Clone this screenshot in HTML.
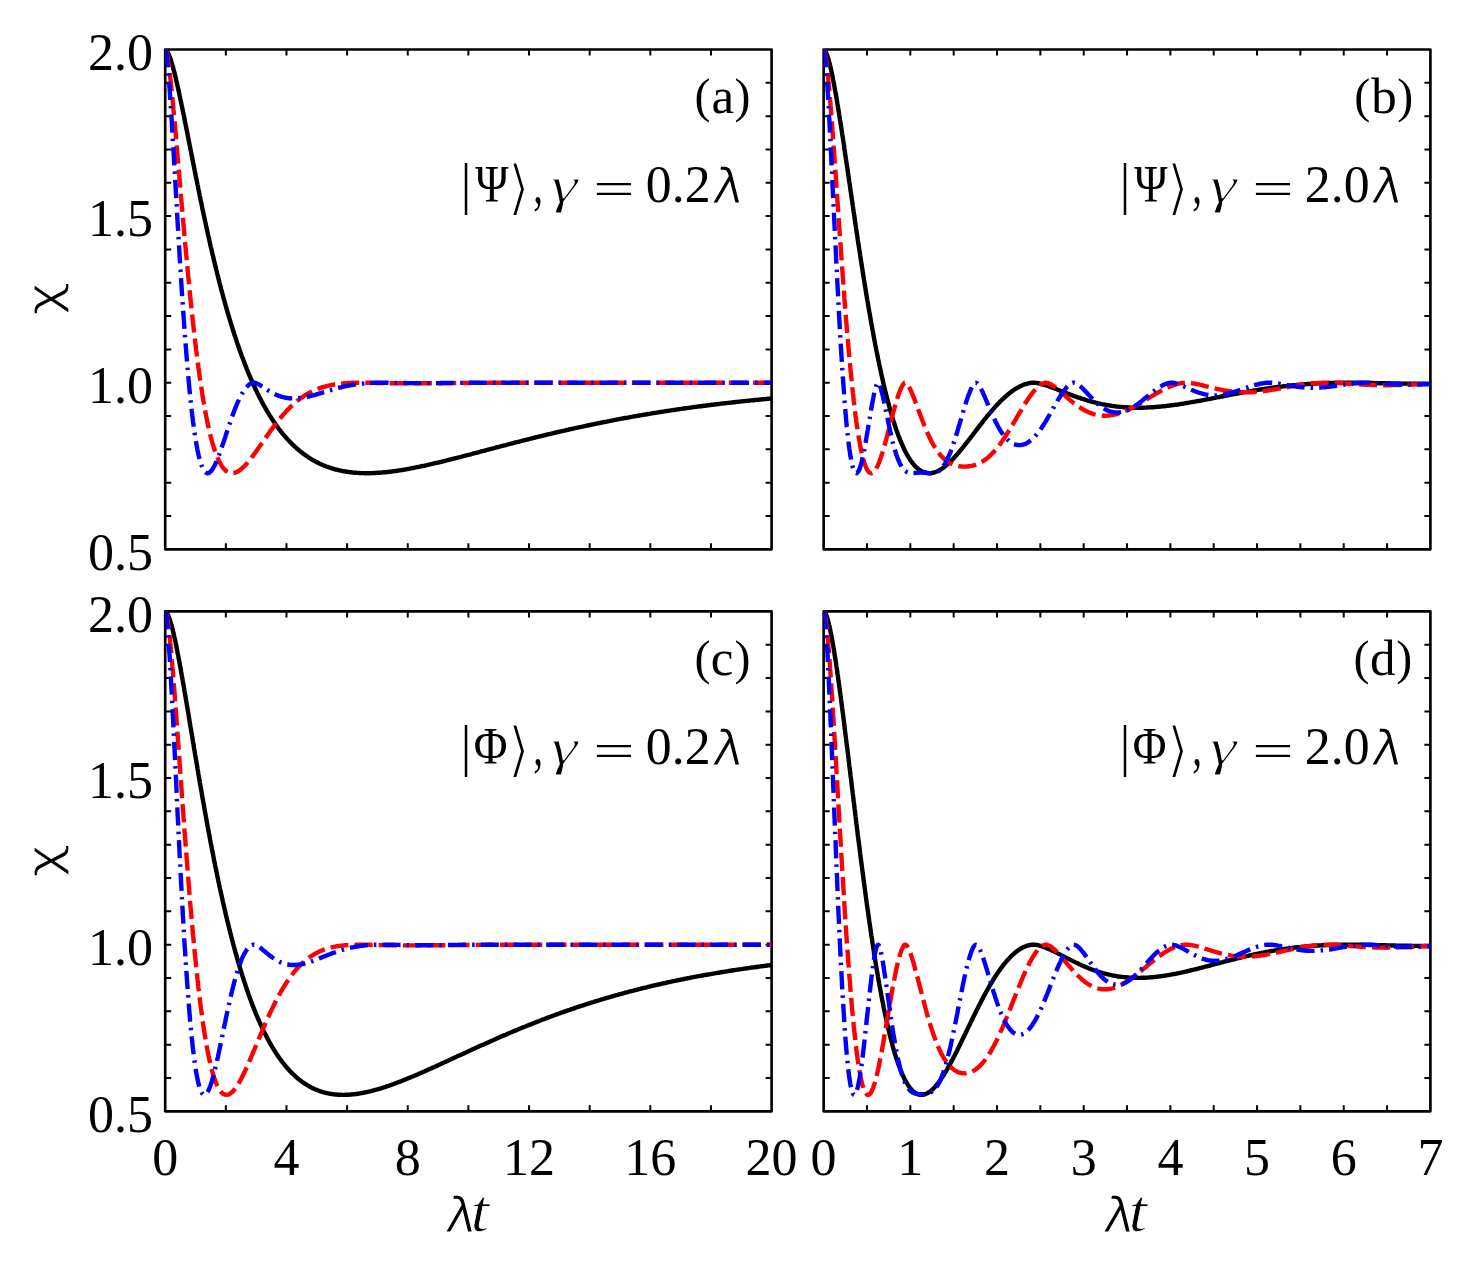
<!DOCTYPE html>
<html lang="en"><head><meta charset="utf-8"><title>chi versus lambda t</title>
<style>
html,body{margin:0;padding:0;background:#fff;}
body{width:1470px;height:1263px;overflow:hidden;}
svg{display:block;}
text{font-family:"Liberation Serif","DejaVu Serif",serif;fill:#000;}
.tk{font-size:52px;}
.c{fill:none;stroke-width:4.4;stroke-linejoin:round;}
.k{stroke:#000;}
.r{stroke:#f00;stroke-dasharray:18.18 6.06;}
.b{stroke:#00f;stroke-dasharray:18.18 6.06 2.47 6.06;}
.fr{fill:none;stroke:#000;stroke-width:2.65;stroke-linejoin:round;}
.t{stroke:#000;stroke-width:2;fill:none;}
</style></head><body>
<svg width="1470" height="1263" viewBox="0 0 1470 1263">
<rect width="1470" height="1263" fill="#fff"/>
<g id="panel-a">
<clipPath id="cp0"><rect x="165.20" y="49.50" width="606.40" height="499.80"/></clipPath>
<path class="t" d="M225.84 549.30v-6M225.84 49.50v6M286.48 549.30v-6M286.48 49.50v6M347.12 549.30v-6M347.12 49.50v6M407.76 549.30v-6M407.76 49.50v6M468.40 549.30v-6M468.40 49.50v6M529.04 549.30v-6M529.04 49.50v6M589.68 549.30v-6M589.68 49.50v6M650.32 549.30v-6M650.32 49.50v6M710.96 549.30v-6M710.96 49.50v6M165.20 82.82h6M771.60 82.82h-6M165.20 116.14h6M771.60 116.14h-6M165.20 149.46h6M771.60 149.46h-6M165.20 182.78h6M771.60 182.78h-6M165.20 216.10h6M771.60 216.10h-6M165.20 249.42h6M771.60 249.42h-6M165.20 282.74h6M771.60 282.74h-6M165.20 316.06h6M771.60 316.06h-6M165.20 349.38h6M771.60 349.38h-6M165.20 382.70h6M771.60 382.70h-6M165.20 416.02h6M771.60 416.02h-6M165.20 449.34h6M771.60 449.34h-6M165.20 482.66h6M771.60 482.66h-6M165.20 515.98h6M771.60 515.98h-6"/>
<rect class="fr" x="165.20" y="49.50" width="606.40" height="499.80"/>
<g clip-path="url(#cp0)">
<path class="c k" d="M165.2 49.5L165.2 49.5L165.3 49.5L165.3 49.5L165.4 49.5L165.4 49.5L165.5 49.6L165.6 49.6L165.7 49.6L165.8 49.7L165.9 49.8L166.0 49.8L166.1 49.9L166.2 50.1L166.4 50.2L166.5 50.3L166.6 50.5L166.8 50.7L166.9 50.9L167.1 51.1L167.3 51.4L167.4 51.6L167.6 51.9L167.8 52.3L167.9 52.6L168.1 53.0L168.3 53.4L168.5 53.8L168.7 54.3L168.9 54.7L169.1 55.2L169.3 55.8L169.6 56.3L169.8 56.9L170.0 57.5L170.2 58.2L170.5 58.9L170.7 59.6L170.9 60.3L171.2 61.1L171.4 61.9L171.7 62.7L171.9 63.5L172.2 64.4L172.4 65.3L172.7 66.3L173.0 67.2L173.3 68.3L173.5 69.3L173.8 70.3L174.1 71.4L174.4 72.6L174.7 73.7L175.0 74.9L175.3 76.1L175.6 77.3L175.9 78.6L176.2 79.9L176.5 81.2L176.8 82.6L177.1 84.0L177.4 85.4L177.7 86.8L178.1 88.3L178.4 89.7L178.7 91.3L179.1 92.8L179.4 94.4L179.7 96.0L180.1 97.6L180.4 99.2L180.8 100.9L181.1 102.6L181.5 104.3L181.8 106.0L182.2 107.8L182.6 109.5L182.9 111.3L183.3 113.2L183.7 115.0L184.1 116.9L184.4 118.8L184.8 120.7L185.2 122.6L185.6 124.5L186.0 126.5L186.4 128.5L186.8 130.5L187.2 132.5L187.6 134.5L188.0 136.5L188.4 138.6L188.8 140.7L189.2 142.8L189.6 144.9L190.0 147.0L190.4 149.1L190.9 151.3L191.3 153.4L191.7 155.6L192.2 157.8L192.6 160.0L193.0 162.2L193.5 164.4L193.9 166.6L194.3 168.8L194.8 171.1L195.2 173.3L195.7 175.6L196.1 177.8L196.6 180.1L197.1 182.4L197.5 184.6L198.0 186.9L198.4 189.2L198.9 191.5L199.4 193.8L199.8 196.1L200.3 198.4L200.8 200.7L201.3 203.0L201.8 205.4L202.2 207.7L202.7 210.0L203.2 212.3L203.7 214.6L204.2 216.9L204.7 219.3L205.2 221.6L205.7 223.9L206.2 226.2L206.7 228.5L207.2 230.8L207.7 233.2L208.2 235.5L208.8 237.8L209.3 240.1L209.8 242.4L210.3 244.7L210.8 247.0L211.4 249.2L211.9 251.5L212.4 253.8L213.0 256.1L213.5 258.3L214.0 260.6L214.6 262.8L215.1 265.1L215.7 267.3L216.2 269.5L216.8 271.8L217.3 274.0L217.9 276.2L218.4 278.4L219.0 280.6L219.5 282.8L220.1 284.9L220.7 287.1L221.2 289.3L221.8 291.4L222.4 293.5L222.9 295.7L223.5 297.8L224.1 299.9L224.7 302.0L225.3 304.1L225.8 306.1L226.4 308.2L227.0 310.3L227.6 312.3L228.2 314.3L228.8 316.3L229.4 318.3L230.0 320.3L230.6 322.3L231.2 324.3L231.8 326.2L232.4 328.2L233.0 330.1L233.6 332.0L234.2 333.9L234.8 335.8L235.5 337.7L236.1 339.6L236.7 341.4L237.3 343.3L237.9 345.1L238.6 346.9L239.2 348.7L239.8 350.5L240.5 352.3L241.1 354.0L241.7 355.8L242.4 357.5L243.0 359.2L243.7 360.9L244.3 362.6L245.0 364.3L245.6 366.0L246.3 367.6L246.9 369.3L247.6 370.9L248.2 372.5L248.9 374.1L249.5 375.6L250.2 377.2L250.9 378.8L251.5 380.3L252.2 381.8L252.9 383.3L253.5 384.8L254.2 386.3L254.9 387.7L255.6 389.2L256.2 390.6L256.9 392.0L257.6 393.4L258.3 394.8L259.0 396.2L259.7 397.6L260.4 398.9L261.1 400.2L261.8 401.6L262.5 402.9L263.1 404.1L263.8 405.4L264.6 406.7L265.3 407.9L266.0 409.2L266.7 410.4L267.4 411.6L268.1 412.8L268.8 413.9L269.5 415.1L270.2 416.3L271.0 417.4L271.7 418.5L272.4 419.6L273.1 420.7L273.9 421.8L274.6 422.9L275.3 423.9L276.0 425.0L276.8 426.0L277.5 427.0L278.2 428.0L279.0 429.0L279.7 429.9L280.5 430.9L281.2 431.9L282.0 432.8L282.7 433.7L283.5 434.6L284.2 435.5L285.0 436.4L285.7 437.3L286.5 438.1L287.2 439.0L288.0 439.8L288.8 440.6L289.5 441.4L290.3 442.2L291.1 443.0L291.8 443.8L292.6 444.5L293.4 445.3L294.1 446.0L294.9 446.7L295.7 447.4L296.5 448.1L297.3 448.8L298.0 449.5L298.8 450.2L299.6 450.8L300.4 451.5L301.2 452.1L302.0 452.7L302.8 453.3L303.6 453.9L304.4 454.5L305.2 455.1L306.0 455.6L306.8 456.2L307.6 456.7L308.4 457.3L309.2 457.8L310.0 458.3L310.8 458.8L311.6 459.3L312.4 459.8L313.3 460.3L314.1 460.7L314.9 461.2L315.7 461.6L316.5 462.0L317.4 462.5L318.2 462.9L319.0 463.3L319.8 463.7L320.7 464.1L321.5 464.4L322.3 464.8L323.2 465.2L324.0 465.5L324.9 465.9L325.7 466.2L326.5 466.5L327.4 466.8L328.2 467.1L329.1 467.4L329.9 467.7L330.8 468.0L331.6 468.3L332.5 468.5L333.3 468.8L334.2 469.0L335.1 469.3L335.9 469.5L336.8 469.7L337.7 469.9L338.5 470.1L339.4 470.3L340.3 470.5L341.1 470.7L342.0 470.9L342.9 471.1L343.7 471.2L344.6 471.4L345.5 471.5L346.4 471.7L347.3 471.8L348.1 471.9L349.0 472.1L349.9 472.2L350.8 472.3L351.7 472.4L352.6 472.5L353.5 472.6L354.4 472.7L355.3 472.7L356.2 472.8L357.1 472.9L358.0 472.9L358.9 473.0L359.8 473.0L360.7 473.1L361.6 473.1L362.5 473.1L363.4 473.1L364.3 473.2L365.2 473.2L366.2 473.2L367.1 473.2L368.0 473.2L368.9 473.2L369.8 473.2L370.8 473.1L371.7 473.1L372.6 473.1L373.5 473.0L374.5 473.0L375.4 473.0L376.3 472.9L377.3 472.8L378.2 472.8L379.1 472.7L380.1 472.7L381.0 472.6L381.9 472.5L382.9 472.4L383.8 472.3L384.8 472.3L385.7 472.2L386.7 472.1L387.6 472.0L388.6 471.8L389.5 471.7L390.5 471.6L391.5 471.5L392.4 471.4L393.4 471.3L394.3 471.1L395.3 471.0L396.3 470.9L397.2 470.7L398.2 470.6L399.2 470.4L400.1 470.3L401.1 470.1L402.1 470.0L403.1 469.8L404.0 469.6L405.0 469.5L406.0 469.3L407.0 469.1L407.9 469.0L408.9 468.8L409.9 468.6L410.9 468.4L411.9 468.2L412.9 468.0L413.9 467.8L414.9 467.6L415.9 467.4L416.9 467.2L417.9 467.0L418.9 466.8L419.9 466.6L420.9 466.4L421.9 466.2L422.9 466.0L423.9 465.8L424.9 465.6L425.9 465.3L426.9 465.1L427.9 464.9L428.9 464.7L429.9 464.4L431.0 464.2L432.0 464.0L433.0 463.7L434.0 463.5L435.0 463.2L436.1 463.0L437.1 462.8L438.1 462.5L439.1 462.3L440.2 462.0L441.2 461.8L442.2 461.5L443.3 461.3L444.3 461.0L445.3 460.8L446.4 460.5L447.4 460.2L448.5 460.0L449.5 459.7L450.5 459.5L451.6 459.2L452.6 458.9L453.7 458.7L454.7 458.4L455.8 458.1L456.8 457.9L457.9 457.6L459.0 457.3L460.0 457.1L461.1 456.8L462.1 456.5L463.2 456.2L464.2 456.0L465.3 455.7L466.4 455.4L467.4 455.1L468.5 454.8L469.6 454.6L470.7 454.3L471.7 454.0L472.8 453.7L473.9 453.4L475.0 453.1L476.0 452.9L477.1 452.6L478.2 452.3L479.3 452.0L480.4 451.7L481.4 451.4L482.5 451.1L483.6 450.9L484.7 450.6L485.8 450.3L486.9 450.0L488.0 449.7L489.1 449.4L490.2 449.1L491.3 448.8L492.4 448.5L493.5 448.3L494.6 448.0L495.7 447.7L496.8 447.4L497.9 447.1L499.0 446.8L500.1 446.5L501.2 446.2L502.3 445.9L503.4 445.6L504.6 445.3L505.7 445.1L506.8 444.8L507.9 444.5L509.0 444.2L510.1 443.9L511.3 443.6L512.4 443.3L513.5 443.0L514.6 442.7L515.8 442.4L516.9 442.1L518.0 441.9L519.2 441.6L520.3 441.3L521.4 441.0L522.6 440.7L523.7 440.4L524.8 440.1L526.0 439.8L527.1 439.5L528.3 439.3L529.4 439.0L530.6 438.7L531.7 438.4L532.8 438.1L534.0 437.8L535.2 437.5L536.3 437.2L537.5 437.0L538.6 436.7L539.8 436.4L540.9 436.1L542.1 435.8L543.2 435.5L544.4 435.3L545.6 435.0L546.7 434.7L547.9 434.4L549.1 434.1L550.2 433.9L551.4 433.6L552.6 433.3L553.7 433.0L554.9 432.8L556.1 432.5L557.3 432.2L558.4 431.9L559.6 431.7L560.8 431.4L562.0 431.1L563.2 430.8L564.4 430.6L565.5 430.3L566.7 430.0L567.9 429.8L569.1 429.5L570.3 429.2L571.5 429.0L572.7 428.7L573.9 428.4L575.1 428.2L576.3 427.9L577.5 427.6L578.7 427.4L579.9 427.1L581.1 426.8L582.3 426.6L583.5 426.3L584.7 426.1L585.9 425.8L587.1 425.5L588.3 425.3L589.5 425.0L590.7 424.8L592.0 424.5L593.2 424.3L594.4 424.0L595.6 423.8L596.8 423.5L598.0 423.3L599.3 423.0L600.5 422.8L601.7 422.5L602.9 422.3L604.2 422.0L605.4 421.8L606.6 421.6L607.9 421.3L609.1 421.1L610.3 420.8L611.6 420.6L612.8 420.3L614.0 420.1L615.3 419.9L616.5 419.6L617.8 419.4L619.0 419.2L620.2 418.9L621.5 418.7L622.7 418.5L624.0 418.2L625.2 418.0L626.5 417.8L627.7 417.6L629.0 417.3L630.2 417.1L631.5 416.9L632.8 416.7L634.0 416.4L635.3 416.2L636.5 416.0L637.8 415.8L639.1 415.5L640.3 415.3L641.6 415.1L642.9 414.9L644.1 414.7L645.4 414.5L646.7 414.3L647.9 414.0L649.2 413.8L650.5 413.6L651.8 413.4L653.0 413.2L654.3 413.0L655.6 412.8L656.9 412.6L658.1 412.4L659.4 412.2L660.7 412.0L662.0 411.8L663.3 411.6L664.6 411.4L665.9 411.2L667.2 411.0L668.4 410.8L669.7 410.6L671.0 410.4L672.3 410.2L673.6 410.0L674.9 409.8L676.2 409.6L677.5 409.4L678.8 409.2L680.1 409.1L681.4 408.9L682.7 408.7L684.0 408.5L685.4 408.3L686.7 408.1L688.0 407.9L689.3 407.8L690.6 407.6L691.9 407.4L693.2 407.2L694.5 407.0L695.9 406.9L697.2 406.7L698.5 406.5L699.8 406.3L701.1 406.2L702.5 406.0L703.8 405.8L705.1 405.7L706.5 405.5L707.8 405.3L709.1 405.2L710.4 405.0L711.8 404.8L713.1 404.7L714.4 404.5L715.8 404.3L717.1 404.2L718.5 404.0L719.8 403.9L721.1 403.7L722.5 403.5L723.8 403.4L725.2 403.2L726.5 403.1L727.9 402.9L729.2 402.8L730.6 402.6L731.9 402.5L733.3 402.3L734.6 402.2L736.0 402.0L737.3 401.9L738.7 401.7L740.0 401.6L741.4 401.4L742.8 401.3L744.1 401.1L745.5 401.0L746.8 400.9L748.2 400.7L749.6 400.6L750.9 400.4L752.3 400.3L753.7 400.2L755.1 400.0L756.4 399.9L757.8 399.8L759.2 399.6L760.5 399.5L761.9 399.4L763.3 399.2L764.7 399.1L766.1 399.0L767.4 398.8L768.8 398.7L770.2 398.6L771.6 398.5"/>
<path class="c r" d="M165.2 49.5L165.2 49.5L165.3 49.5L165.3 49.5L165.4 49.6L165.4 49.6L165.5 49.7L165.6 49.8L165.7 50.0L165.8 50.2L165.9 50.4L166.0 50.7L166.1 51.0L166.2 51.4L166.4 51.8L166.5 52.3L166.6 52.9L166.8 53.5L166.9 54.2L167.1 55.0L167.3 55.8L167.4 56.7L167.6 57.7L167.8 58.7L167.9 59.8L168.1 61.0L168.3 62.3L168.5 63.6L168.7 65.1L168.9 66.6L169.1 68.2L169.3 69.8L169.6 71.6L169.8 73.4L170.0 75.3L170.2 77.3L170.5 79.3L170.7 81.4L170.9 83.7L171.2 86.0L171.4 88.3L171.7 90.8L171.9 93.3L172.2 95.9L172.4 98.6L172.7 101.3L173.0 104.1L173.3 107.0L173.5 110.0L173.8 113.0L174.1 116.1L174.4 119.2L174.7 122.4L175.0 125.7L175.3 129.0L175.6 132.4L175.9 135.9L176.2 139.4L176.5 143.0L176.8 146.6L177.1 150.2L177.4 154.0L177.7 157.7L178.1 161.5L178.4 165.4L178.7 169.2L179.1 173.2L179.4 177.1L179.7 181.1L180.1 185.1L180.4 189.2L180.8 193.3L181.1 197.4L181.5 201.5L181.8 205.7L182.2 209.9L182.6 214.1L182.9 218.3L183.3 222.5L183.7 226.7L184.1 231.0L184.4 235.2L184.8 239.5L185.2 243.8L185.6 248.0L186.0 252.3L186.4 256.5L186.8 260.8L187.2 265.0L187.6 269.3L188.0 273.5L188.4 277.7L188.8 281.9L189.2 286.1L189.6 290.3L190.0 294.4L190.4 298.6L190.9 302.7L191.3 306.8L191.7 310.8L192.2 314.8L192.6 318.8L193.0 322.8L193.5 326.7L193.9 330.6L194.3 334.5L194.8 338.3L195.2 342.1L195.7 345.9L196.1 349.6L196.6 353.2L197.1 356.9L197.5 360.5L198.0 364.0L198.4 367.5L198.9 370.9L199.4 374.3L199.8 377.6L200.3 380.9L200.8 384.2L201.3 387.4L201.8 390.5L202.2 393.6L202.7 396.6L203.2 399.6L203.7 402.5L204.2 405.3L204.7 408.1L205.2 410.9L205.7 413.5L206.2 416.2L206.7 418.7L207.2 421.2L207.7 423.7L208.2 426.1L208.8 428.4L209.3 430.6L209.8 432.8L210.3 435.0L210.8 437.1L211.4 439.1L211.9 441.0L212.4 442.9L213.0 444.8L213.5 446.5L214.0 448.2L214.6 449.9L215.1 451.5L215.7 453.0L216.2 454.5L216.8 455.9L217.3 457.3L217.9 458.5L218.4 459.8L219.0 461.0L219.5 462.1L220.1 463.1L220.7 464.1L221.2 465.1L221.8 466.0L222.4 466.8L222.9 467.6L223.5 468.3L224.1 469.0L224.7 469.6L225.3 470.2L225.8 470.7L226.4 471.2L227.0 471.6L227.6 471.9L228.2 472.3L228.8 472.5L229.4 472.7L230.0 472.9L230.6 473.1L231.2 473.1L231.8 473.2L232.4 473.2L233.0 473.1L233.6 473.0L234.2 472.9L234.8 472.8L235.5 472.6L236.1 472.3L236.7 472.0L237.3 471.7L237.9 471.4L238.6 471.0L239.2 470.6L239.8 470.1L240.5 469.6L241.1 469.1L241.7 468.6L242.4 468.0L243.0 467.4L243.7 466.8L244.3 466.2L245.0 465.5L245.6 464.8L246.3 464.1L246.9 463.3L247.6 462.6L248.2 461.8L248.9 461.0L249.5 460.2L250.2 459.4L250.9 458.5L251.5 457.6L252.2 456.8L252.9 455.9L253.5 455.0L254.2 454.0L254.9 453.1L255.6 452.2L256.2 451.2L256.9 450.2L257.6 449.3L258.3 448.3L259.0 447.3L259.7 446.3L260.4 445.3L261.1 444.3L261.8 443.3L262.5 442.3L263.1 441.3L263.8 440.3L264.6 439.3L265.3 438.3L266.0 437.3L266.7 436.2L267.4 435.2L268.1 434.2L268.8 433.2L269.5 432.2L270.2 431.2L271.0 430.2L271.7 429.2L272.4 428.3L273.1 427.3L273.9 426.3L274.6 425.3L275.3 424.4L276.0 423.4L276.8 422.5L277.5 421.5L278.2 420.6L279.0 419.7L279.7 418.8L280.5 417.9L281.2 417.0L282.0 416.1L282.7 415.2L283.5 414.4L284.2 413.5L285.0 412.7L285.7 411.9L286.5 411.0L287.2 410.2L288.0 409.5L288.8 408.7L289.5 407.9L290.3 407.1L291.1 406.4L291.8 405.7L292.6 405.0L293.4 404.3L294.1 403.6L294.9 402.9L295.7 402.2L296.5 401.6L297.3 400.9L298.0 400.3L298.8 399.7L299.6 399.1L300.4 398.5L301.2 397.9L302.0 397.3L302.8 396.8L303.6 396.3L304.4 395.7L305.2 395.2L306.0 394.7L306.8 394.2L307.6 393.8L308.4 393.3L309.2 392.9L310.0 392.4L310.8 392.0L311.6 391.6L312.4 391.2L313.3 390.8L314.1 390.4L314.9 390.1L315.7 389.7L316.5 389.4L317.4 389.0L318.2 388.7L319.0 388.4L319.8 388.1L320.7 387.8L321.5 387.5L322.3 387.3L323.2 387.0L324.0 386.8L324.9 386.5L325.7 386.3L326.5 386.1L327.4 385.9L328.2 385.7L329.1 385.5L329.9 385.3L330.8 385.1L331.6 384.9L332.5 384.8L333.3 384.6L334.2 384.5L335.1 384.3L335.9 384.2L336.8 384.1L337.7 384.0L338.5 383.8L339.4 383.7L340.3 383.6L341.1 383.5L342.0 383.5L342.9 383.4L343.7 383.3L344.6 383.2L345.5 383.2L346.4 383.1L347.3 383.0L348.1 383.0L349.0 383.0L349.9 382.9L350.8 382.9L351.7 382.8L352.6 382.8L353.5 382.8L354.4 382.8L355.3 382.7L356.2 382.7L357.1 382.7L358.0 382.7L358.9 382.7L359.8 382.7L360.7 382.7L361.6 382.7L362.5 382.7L363.4 382.7L364.3 382.7L365.2 382.8L366.2 382.8L367.1 382.8L368.0 382.8L368.9 382.8L369.8 382.8L370.8 382.8L371.7 382.9L372.6 382.9L373.5 382.9L374.5 382.9L375.4 382.9L376.3 383.0L377.3 383.0L378.2 383.0L379.1 383.0L380.1 383.0L381.0 383.0L381.9 383.1L382.9 383.1L383.8 383.1L384.8 383.1L385.7 383.1L386.7 383.1L387.6 383.2L388.6 383.2L389.5 383.2L390.5 383.2L391.5 383.2L392.4 383.2L393.4 383.2L394.3 383.2L395.3 383.2L396.3 383.2L397.2 383.3L398.2 383.3L399.2 383.3L400.1 383.3L401.1 383.3L402.1 383.3L403.1 383.3L404.0 383.3L405.0 383.3L406.0 383.3L407.0 383.3L407.9 383.3L408.9 383.3L409.9 383.3L410.9 383.3L411.9 383.3L412.9 383.3L413.9 383.3L414.9 383.3L415.9 383.3L416.9 383.3L417.9 383.3L418.9 383.3L419.9 383.3L420.9 383.3L421.9 383.3L422.9 383.3L423.9 383.3L424.9 383.3L425.9 383.3L426.9 383.3L427.9 383.3L428.9 383.2L429.9 383.2L431.0 383.2L432.0 383.2L433.0 383.2L434.0 383.2L435.0 383.2L436.1 383.2L437.1 383.2L438.1 383.2L439.1 383.2L440.2 383.2L441.2 383.2L442.2 383.2L443.3 383.1L444.3 383.1L445.3 383.1L446.4 383.1L447.4 383.1L448.5 383.1L449.5 383.1L450.5 383.1L451.6 383.1L452.6 383.1L453.7 383.1L454.7 383.1L455.8 383.1L456.8 383.0L457.9 383.0L459.0 383.0L460.0 383.0L461.1 383.0L462.1 383.0L463.2 383.0L464.2 383.0L465.3 383.0L466.4 383.0L467.4 383.0L468.5 383.0L469.6 383.0L470.7 382.9L471.7 382.9L472.8 382.9L473.9 382.9L475.0 382.9L476.0 382.9L477.1 382.9L478.2 382.9L479.3 382.9L480.4 382.9L481.4 382.9L482.5 382.9L483.6 382.9L484.7 382.9L485.8 382.9L486.9 382.9L488.0 382.9L489.1 382.8L490.2 382.8L491.3 382.8L492.4 382.8L493.5 382.8L494.6 382.8L495.7 382.8L496.8 382.8L497.9 382.8L499.0 382.8L500.1 382.8L501.2 382.8L502.3 382.8L503.4 382.8L504.6 382.8L505.7 382.8L506.8 382.8L507.9 382.8L509.0 382.8L510.1 382.8L511.3 382.8L512.4 382.8L513.5 382.8L514.6 382.8L515.8 382.8L516.9 382.8L518.0 382.8L519.2 382.7L520.3 382.7L521.4 382.7L522.6 382.7L523.7 382.7L524.8 382.7L526.0 382.7L527.1 382.7L528.3 382.7L529.4 382.7L530.6 382.7L531.7 382.7L532.8 382.7L534.0 382.7L535.2 382.7L536.3 382.7L537.5 382.7L538.6 382.7L539.8 382.7L540.9 382.7L542.1 382.7L543.2 382.7L544.4 382.7L545.6 382.7L546.7 382.7L547.9 382.7L549.1 382.7L550.2 382.7L551.4 382.7L552.6 382.7L553.7 382.7L554.9 382.7L556.1 382.7L557.3 382.7L558.4 382.7L559.6 382.7L560.8 382.7L562.0 382.7L563.2 382.7L564.4 382.7L565.5 382.7L566.7 382.7L567.9 382.7L569.1 382.7L570.3 382.7L571.5 382.7L572.7 382.7L573.9 382.7L575.1 382.7L576.3 382.7L577.5 382.7L578.7 382.7L579.9 382.7L581.1 382.7L582.3 382.7L583.5 382.7L584.7 382.7L585.9 382.7L587.1 382.7L588.3 382.7L589.5 382.7L590.7 382.7L592.0 382.7L593.2 382.7L594.4 382.7L595.6 382.7L596.8 382.7L598.0 382.7L599.3 382.7L600.5 382.7L601.7 382.7L602.9 382.7L604.2 382.7L605.4 382.7L606.6 382.7L607.9 382.7L609.1 382.7L610.3 382.7L611.6 382.7L612.8 382.7L614.0 382.7L615.3 382.7L616.5 382.7L617.8 382.7L619.0 382.7L620.2 382.7L621.5 382.7L622.7 382.7L624.0 382.7L625.2 382.7L626.5 382.7L627.7 382.7L629.0 382.7L630.2 382.7L631.5 382.7L632.8 382.7L634.0 382.7L635.3 382.7L636.5 382.7L637.8 382.7L639.1 382.7L640.3 382.7L641.6 382.7L642.9 382.7L644.1 382.7L645.4 382.7L646.7 382.7L647.9 382.7L649.2 382.7L650.5 382.7L651.8 382.7L653.0 382.7L654.3 382.7L655.6 382.7L656.9 382.7L658.1 382.7L659.4 382.7L660.7 382.7L662.0 382.7L663.3 382.7L664.6 382.7L665.9 382.7L667.2 382.7L668.4 382.7L669.7 382.7L671.0 382.7L672.3 382.7L673.6 382.7L674.9 382.7L676.2 382.7L677.5 382.7L678.8 382.7L680.1 382.7L681.4 382.7L682.7 382.7L684.0 382.7L685.4 382.7L686.7 382.7L688.0 382.7L689.3 382.7L690.6 382.7L691.9 382.7L693.2 382.7L694.5 382.7L695.9 382.7L697.2 382.7L698.5 382.7L699.8 382.7L701.1 382.7L702.5 382.7L703.8 382.7L705.1 382.7L706.5 382.7L707.8 382.7L709.1 382.7L710.4 382.7L711.8 382.7L713.1 382.7L714.4 382.7L715.8 382.7L717.1 382.7L718.5 382.7L719.8 382.7L721.1 382.7L722.5 382.7L723.8 382.7L725.2 382.7L726.5 382.7L727.9 382.7L729.2 382.7L730.6 382.7L731.9 382.7L733.3 382.7L734.6 382.7L736.0 382.7L737.3 382.7L738.7 382.7L740.0 382.7L741.4 382.7L742.8 382.7L744.1 382.7L745.5 382.7L746.8 382.7L748.2 382.7L749.6 382.7L750.9 382.7L752.3 382.7L753.7 382.7L755.1 382.7L756.4 382.7L757.8 382.7L759.2 382.7L760.5 382.7L761.9 382.7L763.3 382.7L764.7 382.7L766.1 382.7L767.4 382.7L768.8 382.7L770.2 382.7L771.6 382.7"/>
<path class="c b" d="M165.2 49.5L165.2 49.5L165.3 49.5L165.3 49.6L165.4 49.6L165.4 49.7L165.5 49.9L165.6 50.1L165.7 50.4L165.8 50.7L165.9 51.2L166.0 51.7L166.1 52.3L166.2 53.0L166.4 53.8L166.5 54.7L166.6 55.7L166.8 56.9L166.9 58.1L167.1 59.4L167.3 60.9L167.4 62.5L167.6 64.2L167.8 66.1L167.9 68.0L168.1 70.1L168.3 72.3L168.5 74.7L168.7 77.1L168.9 79.7L169.1 82.5L169.3 85.3L169.6 88.3L169.8 91.4L170.0 94.6L170.2 98.0L170.5 101.4L170.7 105.0L170.9 108.7L171.2 112.5L171.4 116.4L171.7 120.5L171.9 124.6L172.2 128.8L172.4 133.2L172.7 137.6L173.0 142.1L173.3 146.8L173.5 151.5L173.8 156.2L174.1 161.1L174.4 166.1L174.7 171.1L175.0 176.1L175.3 181.3L175.6 186.5L175.9 191.8L176.2 197.1L176.5 202.4L176.8 207.8L177.1 213.3L177.4 218.7L177.7 224.2L178.1 229.8L178.4 235.3L178.7 240.9L179.1 246.5L179.4 252.0L179.7 257.6L180.1 263.2L180.4 268.8L180.8 274.4L181.1 279.9L181.5 285.5L181.8 291.0L182.2 296.5L182.6 301.9L182.9 307.4L183.3 312.7L183.7 318.1L184.1 323.4L184.4 328.6L184.8 333.8L185.2 339.0L185.6 344.0L186.0 349.0L186.4 354.0L186.8 358.9L187.2 363.7L187.6 368.4L188.0 373.0L188.4 377.6L188.8 382.0L189.2 386.4L189.6 390.7L190.0 394.9L190.4 399.0L190.9 403.0L191.3 406.9L191.7 410.7L192.2 414.4L192.6 418.0L193.0 421.5L193.5 424.9L193.9 428.1L194.3 431.3L194.8 434.3L195.2 437.3L195.7 440.1L196.1 442.8L196.6 445.3L197.1 447.8L197.5 450.2L198.0 452.4L198.4 454.5L198.9 456.5L199.4 458.4L199.8 460.2L200.3 461.8L200.8 463.3L201.3 464.8L201.8 466.1L202.2 467.2L202.7 468.3L203.2 469.3L203.7 470.1L204.2 470.9L204.7 471.5L205.2 472.1L205.7 472.5L206.2 472.8L206.7 473.0L207.2 473.2L207.7 473.2L208.2 473.1L208.8 472.9L209.3 472.7L209.8 472.3L210.3 471.9L210.8 471.4L211.4 470.8L211.9 470.1L212.4 469.3L213.0 468.5L213.5 467.6L214.0 466.6L214.6 465.6L215.1 464.5L215.7 463.3L216.2 462.1L216.8 460.8L217.3 459.5L217.9 458.1L218.4 456.7L219.0 455.2L219.5 453.7L220.1 452.1L220.7 450.5L221.2 448.9L221.8 447.2L222.4 445.6L222.9 443.9L223.5 442.2L224.1 440.4L224.7 438.7L225.3 436.9L225.8 435.1L226.4 433.4L227.0 431.6L227.6 429.8L228.2 428.0L228.8 426.2L229.4 424.5L230.0 422.7L230.6 421.0L231.2 419.2L231.8 417.5L232.4 415.8L233.0 414.2L233.6 412.5L234.2 410.9L234.8 409.3L235.5 407.7L236.1 406.2L236.7 404.7L237.3 403.2L237.9 401.8L238.6 400.4L239.2 399.1L239.8 397.8L240.5 396.5L241.1 395.3L241.7 394.2L242.4 393.0L243.0 392.0L243.7 391.0L244.3 390.0L245.0 389.1L245.6 388.2L246.3 387.4L246.9 386.7L247.6 386.0L248.2 385.4L248.9 384.8L249.5 384.3L250.2 383.9L250.9 383.5L251.5 383.2L252.2 382.9L252.9 382.8L253.5 382.7L254.2 382.7L254.9 382.9L255.6 383.0L256.2 383.3L256.9 383.6L257.6 383.9L258.3 384.2L259.0 384.6L259.7 385.0L260.4 385.4L261.1 385.8L261.8 386.3L262.5 386.7L263.1 387.2L263.8 387.6L264.6 388.1L265.3 388.5L266.0 389.0L266.7 389.4L267.4 389.9L268.1 390.3L268.8 390.8L269.5 391.2L270.2 391.6L271.0 392.0L271.7 392.5L272.4 392.8L273.1 393.2L273.9 393.6L274.6 394.0L275.3 394.3L276.0 394.7L276.8 395.0L277.5 395.3L278.2 395.6L279.0 395.9L279.7 396.1L280.5 396.4L281.2 396.6L282.0 396.8L282.7 397.0L283.5 397.2L284.2 397.4L285.0 397.6L285.7 397.7L286.5 397.9L287.2 398.0L288.0 398.1L288.8 398.2L289.5 398.3L290.3 398.3L291.1 398.4L291.8 398.4L292.6 398.4L293.4 398.5L294.1 398.5L294.9 398.4L295.7 398.4L296.5 398.4L297.3 398.3L298.0 398.3L298.8 398.2L299.6 398.1L300.4 398.0L301.2 397.9L302.0 397.8L302.8 397.7L303.6 397.5L304.4 397.4L305.2 397.2L306.0 397.1L306.8 396.9L307.6 396.7L308.4 396.5L309.2 396.3L310.0 396.1L310.8 395.9L311.6 395.7L312.4 395.5L313.3 395.3L314.1 395.1L314.9 394.8L315.7 394.6L316.5 394.4L317.4 394.1L318.2 393.9L319.0 393.6L319.8 393.4L320.7 393.1L321.5 392.9L322.3 392.6L323.2 392.4L324.0 392.1L324.9 391.9L325.7 391.6L326.5 391.3L327.4 391.1L328.2 390.8L329.1 390.6L329.9 390.3L330.8 390.1L331.6 389.8L332.5 389.6L333.3 389.3L334.2 389.1L335.1 388.8L335.9 388.6L336.8 388.4L337.7 388.1L338.5 387.9L339.4 387.7L340.3 387.5L341.1 387.3L342.0 387.0L342.9 386.8L343.7 386.6L344.6 386.4L345.5 386.2L346.4 386.1L347.3 385.9L348.1 385.7L349.0 385.5L349.9 385.4L350.8 385.2L351.7 385.0L352.6 384.9L353.5 384.7L354.4 384.6L355.3 384.5L356.2 384.3L357.1 384.2L358.0 384.1L358.9 384.0L359.8 383.9L360.7 383.8L361.6 383.7L362.5 383.6L363.4 383.5L364.3 383.4L365.2 383.3L366.2 383.3L367.1 383.2L368.0 383.1L368.9 383.1L369.8 383.0L370.8 383.0L371.7 382.9L372.6 382.9L373.5 382.9L374.5 382.8L375.4 382.8L376.3 382.8L377.3 382.8L378.2 382.7L379.1 382.7L380.1 382.7L381.0 382.7L381.9 382.7L382.9 382.7L383.8 382.7L384.8 382.7L385.7 382.7L386.7 382.7L387.6 382.7L388.6 382.8L389.5 382.8L390.5 382.8L391.5 382.8L392.4 382.8L393.4 382.8L394.3 382.9L395.3 382.9L396.3 382.9L397.2 382.9L398.2 382.9L399.2 382.9L400.1 383.0L401.1 383.0L402.1 383.0L403.1 383.0L404.0 383.0L405.0 383.0L406.0 383.0L407.0 383.1L407.9 383.1L408.9 383.1L409.9 383.1L410.9 383.1L411.9 383.1L412.9 383.1L413.9 383.1L414.9 383.1L415.9 383.1L416.9 383.1L417.9 383.1L418.9 383.1L419.9 383.1L420.9 383.1L421.9 383.1L422.9 383.1L423.9 383.1L424.9 383.1L425.9 383.1L426.9 383.1L427.9 383.1L428.9 383.1L429.9 383.1L431.0 383.1L432.0 383.1L433.0 383.1L434.0 383.1L435.0 383.1L436.1 383.1L437.1 383.1L438.1 383.1L439.1 383.1L440.2 383.1L441.2 383.0L442.2 383.0L443.3 383.0L444.3 383.0L445.3 383.0L446.4 383.0L447.4 383.0L448.5 383.0L449.5 383.0L450.5 383.0L451.6 383.0L452.6 382.9L453.7 382.9L454.7 382.9L455.8 382.9L456.8 382.9L457.9 382.9L459.0 382.9L460.0 382.9L461.1 382.9L462.1 382.9L463.2 382.9L464.2 382.8L465.3 382.8L466.4 382.8L467.4 382.8L468.5 382.8L469.6 382.8L470.7 382.8L471.7 382.8L472.8 382.8L473.9 382.8L475.0 382.8L476.0 382.8L477.1 382.8L478.2 382.8L479.3 382.8L480.4 382.8L481.4 382.7L482.5 382.7L483.6 382.7L484.7 382.7L485.8 382.7L486.9 382.7L488.0 382.7L489.1 382.7L490.2 382.7L491.3 382.7L492.4 382.7L493.5 382.7L494.6 382.7L495.7 382.7L496.8 382.7L497.9 382.7L499.0 382.7L500.1 382.7L501.2 382.7L502.3 382.7L503.4 382.7L504.6 382.7L505.7 382.7L506.8 382.7L507.9 382.7L509.0 382.7L510.1 382.7L511.3 382.7L512.4 382.7L513.5 382.7L514.6 382.7L515.8 382.7L516.9 382.7L518.0 382.7L519.2 382.7L520.3 382.7L521.4 382.7L522.6 382.7L523.7 382.7L524.8 382.7L526.0 382.7L527.1 382.7L528.3 382.7L529.4 382.7L530.6 382.7L531.7 382.7L532.8 382.7L534.0 382.7L535.2 382.7L536.3 382.7L537.5 382.7L538.6 382.7L539.8 382.7L540.9 382.7L542.1 382.7L543.2 382.7L544.4 382.7L545.6 382.7L546.7 382.7L547.9 382.7L549.1 382.7L550.2 382.7L551.4 382.7L552.6 382.7L553.7 382.7L554.9 382.7L556.1 382.7L557.3 382.7L558.4 382.7L559.6 382.7L560.8 382.7L562.0 382.7L563.2 382.7L564.4 382.7L565.5 382.7L566.7 382.7L567.9 382.7L569.1 382.7L570.3 382.7L571.5 382.7L572.7 382.7L573.9 382.7L575.1 382.7L576.3 382.7L577.5 382.7L578.7 382.7L579.9 382.7L581.1 382.7L582.3 382.7L583.5 382.7L584.7 382.7L585.9 382.7L587.1 382.7L588.3 382.7L589.5 382.7L590.7 382.7L592.0 382.7L593.2 382.7L594.4 382.7L595.6 382.7L596.8 382.7L598.0 382.7L599.3 382.7L600.5 382.7L601.7 382.7L602.9 382.7L604.2 382.7L605.4 382.7L606.6 382.7L607.9 382.7L609.1 382.7L610.3 382.7L611.6 382.7L612.8 382.7L614.0 382.7L615.3 382.7L616.5 382.7L617.8 382.7L619.0 382.7L620.2 382.7L621.5 382.7L622.7 382.7L624.0 382.7L625.2 382.7L626.5 382.7L627.7 382.7L629.0 382.7L630.2 382.7L631.5 382.7L632.8 382.7L634.0 382.7L635.3 382.7L636.5 382.7L637.8 382.7L639.1 382.7L640.3 382.7L641.6 382.7L642.9 382.7L644.1 382.7L645.4 382.7L646.7 382.7L647.9 382.7L649.2 382.7L650.5 382.7L651.8 382.7L653.0 382.7L654.3 382.7L655.6 382.7L656.9 382.7L658.1 382.7L659.4 382.7L660.7 382.7L662.0 382.7L663.3 382.7L664.6 382.7L665.9 382.7L667.2 382.7L668.4 382.7L669.7 382.7L671.0 382.7L672.3 382.7L673.6 382.7L674.9 382.7L676.2 382.7L677.5 382.7L678.8 382.7L680.1 382.7L681.4 382.7L682.7 382.7L684.0 382.7L685.4 382.7L686.7 382.7L688.0 382.7L689.3 382.7L690.6 382.7L691.9 382.7L693.2 382.7L694.5 382.7L695.9 382.7L697.2 382.7L698.5 382.7L699.8 382.7L701.1 382.7L702.5 382.7L703.8 382.7L705.1 382.7L706.5 382.7L707.8 382.7L709.1 382.7L710.4 382.7L711.8 382.7L713.1 382.7L714.4 382.7L715.8 382.7L717.1 382.7L718.5 382.7L719.8 382.7L721.1 382.7L722.5 382.7L723.8 382.7L725.2 382.7L726.5 382.7L727.9 382.7L729.2 382.7L730.6 382.7L731.9 382.7L733.3 382.7L734.6 382.7L736.0 382.7L737.3 382.7L738.7 382.7L740.0 382.7L741.4 382.7L742.8 382.7L744.1 382.7L745.5 382.7L746.8 382.7L748.2 382.7L749.6 382.7L750.9 382.7L752.3 382.7L753.7 382.7L755.1 382.7L756.4 382.7L757.8 382.7L759.2 382.7L760.5 382.7L761.9 382.7L763.3 382.7L764.7 382.7L766.1 382.7L767.4 382.7L768.8 382.7L770.2 382.7L771.6 382.7"/>
</g>
<text class="tk" x="152.9" y="69.6" text-anchor="end">2.0</text>
<text class="tk" x="152.9" y="236.2" text-anchor="end">1.5</text>
<text class="tk" x="152.9" y="402.8" text-anchor="end">1.0</text>
<text class="tk" x="152.9" y="570.1" text-anchor="end">0.5</text>
<g role="img" aria-label="χ" transform="translate(51.9 298.7) rotate(-90)"><text transform="translate(-15.77 7.50) scale(1.2343 1)" style='font-family:"DejaVu Sans",sans-serif;font-weight:200' font-size="44.25" stroke="#000" stroke-width="0.7">χ</text></g>
<text y="111.6"><tspan x="694.49" font-size="48">(</tspan><tspan x="711.51" y="113.3" font-size="51">a</tspan><tspan x="734.52" y="111.6" font-size="48">)</tspan></text>
<g role="img" aria-label="|Ψ⟩, γ = 0.2λ"><text transform="translate(461.03 203.48) scale(0.8936 1)" style='font-family:"Liberation Serif",serif' font-size="56.17">|</text><text transform="translate(475.32 201.65) scale(0.8551 1)" style='font-family:"Liberation Serif",serif' font-size="52.69">Ψ</text><text transform="translate(507.56 207.88) scale(0.9655 1)" style='font-family:"DejaVu Sans",sans-serif' font-size="60.07" stroke="#fff" stroke-width="1.9">⟩</text><text transform="translate(533.27 202.61) scale(0.6851 1)" style='font-family:"Liberation Serif",serif' font-size="56.85">,</text><text transform="translate(550.67 202.09) scale(1.3597 1)" style='font-family:"Liberation Serif",serif' font-style="italic" font-size="50.08" stroke="#fff" stroke-width="1.1">γ</text><text transform="translate(593.19 204.07) scale(1.5548 1)" style='font-family:"Liberation Serif",serif' font-size="47.20">=</text><text x="645.80" y="201.7" font-size="51.8">0.2</text><text transform="translate(711.88 201.80) scale(1.0332 1) skewX(-9)" style='font-family:"DejaVu Sans",sans-serif;font-weight:200' font-size="47.16" stroke="#000" stroke-width="1.2">λ</text></g>
</g>
<g id="panel-b">
<clipPath id="cp1"><rect x="823.65" y="49.50" width="606.75" height="499.80"/></clipPath>
<path class="t" d="M866.99 549.30v-6M866.99 49.50v6M910.33 549.30v-6M910.33 49.50v6M953.67 549.30v-6M953.67 49.50v6M997.01 549.30v-6M997.01 49.50v6M1040.35 549.30v-6M1040.35 49.50v6M1083.69 549.30v-6M1083.69 49.50v6M1127.03 549.30v-6M1127.03 49.50v6M1170.36 549.30v-6M1170.36 49.50v6M1213.70 549.30v-6M1213.70 49.50v6M1257.04 549.30v-6M1257.04 49.50v6M1300.38 549.30v-6M1300.38 49.50v6M1343.72 549.30v-6M1343.72 49.50v6M1387.06 549.30v-6M1387.06 49.50v6M823.65 82.82h6M1430.40 82.82h-6M823.65 116.14h6M1430.40 116.14h-6M823.65 149.46h6M1430.40 149.46h-6M823.65 182.78h6M1430.40 182.78h-6M823.65 216.10h6M1430.40 216.10h-6M823.65 249.42h6M1430.40 249.42h-6M823.65 282.74h6M1430.40 282.74h-6M823.65 316.06h6M1430.40 316.06h-6M823.65 349.38h6M1430.40 349.38h-6M823.65 382.70h6M1430.40 382.70h-6M823.65 416.02h6M1430.40 416.02h-6M823.65 449.34h6M1430.40 449.34h-6M823.65 482.66h6M1430.40 482.66h-6M823.65 515.98h6M1430.40 515.98h-6"/>
<rect class="fr" x="823.65" y="49.50" width="606.75" height="499.80"/>
<g clip-path="url(#cp1)">
<path class="c k" d="M823.6 49.5L823.7 49.5L823.7 49.5L823.7 49.5L823.8 49.5L823.9 49.5L823.9 49.6L824.0 49.6L824.1 49.7L824.2 49.7L824.3 49.8L824.4 49.9L824.6 50.0L824.7 50.2L824.8 50.3L824.9 50.5L825.1 50.7L825.2 50.9L825.4 51.2L825.5 51.5L825.7 51.8L825.9 52.1L826.0 52.5L826.2 52.9L826.4 53.3L826.6 53.7L826.8 54.2L827.0 54.7L827.2 55.3L827.4 55.9L827.6 56.5L827.8 57.2L828.0 57.8L828.2 58.6L828.4 59.3L828.7 60.1L828.9 61.0L829.1 61.9L829.4 62.8L829.6 63.7L829.9 64.7L830.1 65.7L830.4 66.8L830.6 67.9L830.9 69.1L831.2 70.2L831.4 71.5L831.7 72.7L832.0 74.0L832.3 75.4L832.5 76.8L832.8 78.2L833.1 79.7L833.4 81.2L833.7 82.7L834.0 84.3L834.3 85.9L834.6 87.6L834.9 89.3L835.2 91.0L835.6 92.8L835.9 94.6L836.2 96.5L836.5 98.3L836.9 100.3L837.2 102.2L837.5 104.2L837.9 106.3L838.2 108.4L838.5 110.5L838.9 112.6L839.2 114.8L839.6 117.0L839.9 119.3L840.3 121.5L840.7 123.9L841.0 126.2L841.4 128.6L841.8 131.0L842.1 133.5L842.5 135.9L842.9 138.4L843.3 141.0L843.7 143.5L844.1 146.1L844.4 148.8L844.8 151.4L845.2 154.1L845.6 156.8L846.0 159.5L846.4 162.2L846.8 165.0L847.3 167.8L847.7 170.6L848.1 173.5L848.5 176.3L848.9 179.2L849.3 182.1L849.8 185.0L850.2 188.0L850.6 190.9L851.1 193.9L851.5 196.9L851.9 199.9L852.4 202.9L852.8 206.0L853.3 209.0L853.7 212.1L854.2 215.1L854.6 218.2L855.1 221.3L855.5 224.4L856.0 227.5L856.4 230.7L856.9 233.8L857.4 236.9L857.8 240.0L858.3 243.2L858.8 246.3L859.3 249.5L859.8 252.6L860.2 255.8L860.7 258.9L861.2 262.1L861.7 265.2L862.2 268.4L862.7 271.5L863.2 274.7L863.7 277.8L864.2 281.0L864.7 284.1L865.2 287.2L865.7 290.3L866.2 293.4L866.7 296.5L867.2 299.6L867.8 302.7L868.3 305.8L868.8 308.8L869.3 311.9L869.9 314.9L870.4 317.9L870.9 320.9L871.4 323.9L872.0 326.9L872.5 329.9L873.1 332.8L873.6 335.7L874.1 338.7L874.7 341.5L875.2 344.4L875.8 347.3L876.3 350.1L876.9 352.9L877.5 355.7L878.0 358.4L878.6 361.2L879.1 363.9L879.7 366.6L880.3 369.3L880.9 371.9L881.4 374.5L882.0 377.1L882.6 379.7L883.2 382.2L883.7 384.7L884.3 387.2L884.9 389.6L885.5 392.0L886.1 394.4L886.7 396.8L887.3 399.1L887.9 401.4L888.5 403.7L889.1 405.9L889.7 408.1L890.3 410.3L890.9 412.4L891.5 414.5L892.1 416.6L892.7 418.6L893.3 420.6L894.0 422.5L894.6 424.5L895.2 426.4L895.8 428.2L896.4 430.0L897.1 431.8L897.7 433.6L898.3 435.3L899.0 436.9L899.6 438.6L900.2 440.2L900.9 441.7L901.5 443.3L902.2 444.7L902.8 446.2L903.4 447.6L904.1 449.0L904.7 450.3L905.4 451.6L906.1 452.9L906.7 454.1L907.4 455.2L908.0 456.4L908.7 457.5L909.4 458.6L910.0 459.6L910.7 460.6L911.4 461.5L912.0 462.4L912.7 463.3L913.4 464.1L914.1 464.9L914.7 465.7L915.4 466.4L916.1 467.1L916.8 467.7L917.5 468.4L918.2 468.9L918.9 469.5L919.6 470.0L920.3 470.4L921.0 470.8L921.7 471.2L922.4 471.6L923.1 471.9L923.8 472.2L924.5 472.4L925.2 472.6L925.9 472.8L926.6 473.0L927.3 473.1L928.0 473.1L928.7 473.2L929.5 473.2L930.2 473.2L930.9 473.1L931.6 473.0L932.4 472.9L933.1 472.7L933.8 472.6L934.6 472.3L935.3 472.1L936.0 471.8L936.8 471.5L937.5 471.2L938.2 470.8L939.0 470.4L939.7 470.0L940.5 469.6L941.2 469.1L942.0 468.6L942.7 468.1L943.5 467.6L944.2 467.0L945.0 466.4L945.8 465.8L946.5 465.2L947.3 464.5L948.0 463.8L948.8 463.1L949.6 462.4L950.4 461.6L951.1 460.9L951.9 460.1L952.7 459.3L953.4 458.5L954.2 457.6L955.0 456.8L955.8 455.9L956.6 455.0L957.4 454.1L958.1 453.2L958.9 452.3L959.7 451.3L960.5 450.4L961.3 449.4L962.1 448.4L962.9 447.5L963.7 446.5L964.5 445.5L965.3 444.4L966.1 443.4L966.9 442.4L967.7 441.3L968.5 440.3L969.4 439.2L970.2 438.2L971.0 437.1L971.8 436.0L972.6 435.0L973.4 433.9L974.3 432.8L975.1 431.7L975.9 430.7L976.7 429.6L977.6 428.5L978.4 427.4L979.2 426.3L980.1 425.3L980.9 424.2L981.7 423.1L982.6 422.0L983.4 421.0L984.2 419.9L985.1 418.8L985.9 417.8L986.8 416.7L987.6 415.7L988.5 414.7L989.3 413.6L990.2 412.6L991.0 411.6L991.9 410.6L992.8 409.6L993.6 408.7L994.5 407.7L995.3 406.7L996.2 405.8L997.1 404.8L997.9 403.9L998.8 403.0L999.7 402.1L1000.5 401.2L1001.4 400.4L1002.3 399.5L1003.2 398.7L1004.1 397.9L1004.9 397.1L1005.8 396.3L1006.7 395.5L1007.6 394.8L1008.5 394.0L1009.4 393.3L1010.3 392.6L1011.1 391.9L1012.0 391.3L1012.9 390.6L1013.8 390.0L1014.7 389.4L1015.6 388.8L1016.5 388.3L1017.4 387.8L1018.3 387.3L1019.2 386.8L1020.2 386.3L1021.1 385.9L1022.0 385.5L1022.9 385.1L1023.8 384.7L1024.7 384.4L1025.6 384.1L1026.6 383.8L1027.5 383.5L1028.4 383.3L1029.3 383.1L1030.2 383.0L1031.2 382.8L1032.1 382.7L1033.0 382.7L1034.0 382.7L1034.9 382.8L1035.8 382.9L1036.8 383.0L1037.7 383.2L1038.6 383.3L1039.6 383.5L1040.5 383.8L1041.5 384.0L1042.4 384.3L1043.4 384.5L1044.3 384.8L1045.3 385.1L1046.2 385.4L1047.2 385.7L1048.1 386.1L1049.1 386.4L1050.0 386.8L1051.0 387.1L1052.0 387.5L1052.9 387.8L1053.9 388.2L1054.8 388.6L1055.8 388.9L1056.8 389.3L1057.7 389.7L1058.7 390.1L1059.7 390.5L1060.7 390.9L1061.6 391.2L1062.6 391.6L1063.6 392.0L1064.6 392.4L1065.6 392.8L1066.5 393.2L1067.5 393.5L1068.5 393.9L1069.5 394.3L1070.5 394.7L1071.5 395.0L1072.5 395.4L1073.5 395.8L1074.5 396.1L1075.5 396.5L1076.5 396.9L1077.5 397.2L1078.5 397.6L1079.5 397.9L1080.5 398.2L1081.5 398.6L1082.5 398.9L1083.5 399.2L1084.5 399.5L1085.5 399.9L1086.5 400.2L1087.5 400.5L1088.5 400.8L1089.6 401.1L1090.6 401.3L1091.6 401.6L1092.6 401.9L1093.6 402.2L1094.7 402.4L1095.7 402.7L1096.7 402.9L1097.7 403.2L1098.8 403.4L1099.8 403.6L1100.8 403.9L1101.9 404.1L1102.9 404.3L1104.0 404.5L1105.0 404.7L1106.0 404.9L1107.1 405.1L1108.1 405.3L1109.2 405.4L1110.2 405.6L1111.3 405.8L1112.3 405.9L1113.4 406.1L1114.4 406.2L1115.5 406.3L1116.5 406.5L1117.6 406.6L1118.6 406.7L1119.7 406.8L1120.7 406.9L1121.8 407.0L1122.9 407.1L1123.9 407.2L1125.0 407.3L1126.1 407.3L1127.1 407.4L1128.2 407.5L1129.3 407.5L1130.4 407.6L1131.4 407.6L1132.5 407.6L1133.6 407.7L1134.7 407.7L1135.7 407.7L1136.8 407.7L1137.9 407.7L1139.0 407.7L1140.1 407.7L1141.2 407.7L1142.3 407.7L1143.3 407.6L1144.4 407.6L1145.5 407.6L1146.6 407.5L1147.7 407.5L1148.8 407.4L1149.9 407.4L1151.0 407.3L1152.1 407.2L1153.2 407.2L1154.3 407.1L1155.4 407.0L1156.5 406.9L1157.6 406.8L1158.7 406.7L1159.9 406.6L1161.0 406.5L1162.1 406.4L1163.2 406.3L1164.3 406.2L1165.4 406.1L1166.5 405.9L1167.7 405.8L1168.8 405.7L1169.9 405.5L1171.0 405.4L1172.2 405.2L1173.3 405.1L1174.4 404.9L1175.6 404.8L1176.7 404.6L1177.8 404.5L1178.9 404.3L1180.1 404.1L1181.2 403.9L1182.4 403.8L1183.5 403.6L1184.6 403.4L1185.8 403.2L1186.9 403.0L1188.1 402.8L1189.2 402.6L1190.4 402.4L1191.5 402.2L1192.7 402.0L1193.8 401.8L1195.0 401.6L1196.1 401.4L1197.3 401.2L1198.4 401.0L1199.6 400.8L1200.8 400.6L1201.9 400.3L1203.1 400.1L1204.2 399.9L1205.4 399.7L1206.6 399.5L1207.7 399.2L1208.9 399.0L1210.1 398.8L1211.2 398.6L1212.4 398.3L1213.6 398.1L1214.8 397.9L1215.9 397.6L1217.1 397.4L1218.3 397.2L1219.5 397.0L1220.7 396.7L1221.9 396.5L1223.0 396.3L1224.2 396.0L1225.4 395.8L1226.6 395.6L1227.8 395.3L1229.0 395.1L1230.2 394.9L1231.4 394.7L1232.6 394.4L1233.8 394.2L1235.0 394.0L1236.2 393.7L1237.4 393.5L1238.6 393.3L1239.8 393.1L1241.0 392.8L1242.2 392.6L1243.4 392.4L1244.6 392.2L1245.8 392.0L1247.0 391.8L1248.2 391.5L1249.4 391.3L1250.7 391.1L1251.9 390.9L1253.1 390.7L1254.3 390.5L1255.5 390.3L1256.7 390.1L1258.0 389.9L1259.2 389.7L1260.4 389.5L1261.6 389.3L1262.9 389.1L1264.1 388.9L1265.3 388.7L1266.6 388.6L1267.8 388.4L1269.0 388.2L1270.3 388.0L1271.5 387.9L1272.7 387.7L1274.0 387.5L1275.2 387.3L1276.5 387.2L1277.7 387.0L1279.0 386.9L1280.2 386.7L1281.4 386.6L1282.7 386.4L1283.9 386.3L1285.2 386.1L1286.4 386.0L1287.7 385.8L1289.0 385.7L1290.2 385.6L1291.5 385.4L1292.7 385.3L1294.0 385.2L1295.3 385.1L1296.5 385.0L1297.8 384.9L1299.0 384.7L1300.3 384.6L1301.6 384.5L1302.8 384.4L1304.1 384.3L1305.4 384.2L1306.7 384.1L1307.9 384.0L1309.2 384.0L1310.5 383.9L1311.8 383.8L1313.0 383.7L1314.3 383.6L1315.6 383.6L1316.9 383.5L1318.2 383.4L1319.5 383.4L1320.7 383.3L1322.0 383.3L1323.3 383.2L1324.6 383.2L1325.9 383.1L1327.2 383.1L1328.5 383.0L1329.8 383.0L1331.1 382.9L1332.4 382.9L1333.7 382.9L1335.0 382.8L1336.3 382.8L1337.6 382.8L1338.9 382.8L1340.2 382.8L1341.5 382.7L1342.8 382.7L1344.1 382.7L1345.4 382.7L1346.7 382.7L1348.0 382.7L1349.4 382.7L1350.7 382.7L1352.0 382.7L1353.3 382.7L1354.6 382.7L1355.9 382.8L1357.3 382.8L1358.6 382.8L1359.9 382.8L1361.2 382.8L1362.6 382.8L1363.9 382.9L1365.2 382.9L1366.5 382.9L1367.9 382.9L1369.2 383.0L1370.5 383.0L1371.9 383.0L1373.2 383.0L1374.5 383.1L1375.9 383.1L1377.2 383.1L1378.6 383.1L1379.9 383.2L1381.2 383.2L1382.6 383.2L1383.9 383.2L1385.3 383.3L1386.6 383.3L1388.0 383.3L1389.3 383.3L1390.7 383.4L1392.0 383.4L1393.4 383.4L1394.7 383.4L1396.1 383.5L1397.5 383.5L1398.8 383.5L1400.2 383.5L1401.5 383.6L1402.9 383.6L1404.3 383.6L1405.6 383.6L1407.0 383.6L1408.4 383.7L1409.7 383.7L1411.1 383.7L1412.5 383.7L1413.8 383.7L1415.2 383.8L1416.6 383.8L1418.0 383.8L1419.3 383.8L1420.7 383.8L1422.1 383.8L1423.5 383.8L1424.9 383.9L1426.2 383.9L1427.6 383.9L1429.0 383.9L1430.4 383.9"/>
<path class="c r" d="M823.6 49.5L823.7 49.5L823.7 49.5L823.7 49.5L823.8 49.6L823.9 49.6L823.9 49.8L824.0 49.9L824.1 50.1L824.2 50.3L824.3 50.6L824.4 50.9L824.6 51.3L824.7 51.8L824.8 52.3L824.9 52.9L825.1 53.6L825.2 54.4L825.4 55.2L825.5 56.1L825.7 57.1L825.9 58.2L826.0 59.4L826.2 60.6L826.4 62.0L826.6 63.4L826.8 65.0L827.0 66.6L827.2 68.3L827.4 70.2L827.6 72.1L827.8 74.1L828.0 76.2L828.2 78.4L828.4 80.8L828.7 83.2L828.9 85.7L829.1 88.3L829.4 91.0L829.6 93.8L829.9 96.7L830.1 99.7L830.4 102.8L830.6 106.0L830.9 109.3L831.2 112.7L831.4 116.2L831.7 119.7L832.0 123.4L832.3 127.1L832.5 130.9L832.8 134.8L833.1 138.8L833.4 142.8L833.7 146.9L834.0 151.1L834.3 155.4L834.6 159.7L834.9 164.2L835.2 168.6L835.6 173.2L835.9 177.8L836.2 182.4L836.5 187.1L836.9 191.9L837.2 196.7L837.5 201.5L837.9 206.4L838.2 211.3L838.5 216.3L838.9 221.3L839.2 226.3L839.6 231.4L839.9 236.5L840.3 241.6L840.7 246.7L841.0 251.8L841.4 257.0L841.8 262.1L842.1 267.3L842.5 272.5L842.9 277.6L843.3 282.8L843.7 287.9L844.1 293.0L844.4 298.2L844.8 303.2L845.2 308.3L845.6 313.4L846.0 318.4L846.4 323.4L846.8 328.3L847.3 333.2L847.7 338.1L848.1 342.9L848.5 347.7L848.9 352.4L849.3 357.1L849.8 361.7L850.2 366.3L850.6 370.8L851.1 375.2L851.5 379.5L851.9 383.8L852.4 388.0L852.8 392.2L853.3 396.2L853.7 400.2L854.2 404.1L854.6 407.9L855.1 411.6L855.5 415.2L856.0 418.7L856.4 422.1L856.9 425.5L857.4 428.7L857.8 431.8L858.3 434.8L858.8 437.7L859.3 440.5L859.8 443.2L860.2 445.8L860.7 448.3L861.2 450.7L861.7 452.9L862.2 455.0L862.7 457.0L863.2 458.9L863.7 460.7L864.2 462.4L864.7 463.9L865.2 465.3L865.7 466.7L866.2 467.8L866.7 468.9L867.2 469.9L867.8 470.7L868.3 471.4L868.8 472.0L869.3 472.4L869.9 472.8L870.4 473.0L870.9 473.2L871.4 473.2L872.0 473.1L872.5 472.9L873.1 472.5L873.6 472.1L874.1 471.5L874.7 470.9L875.2 470.1L875.8 469.3L876.3 468.3L876.9 467.3L877.5 466.2L878.0 464.9L878.6 463.6L879.1 462.2L879.7 460.7L880.3 459.1L880.9 457.5L881.4 455.7L882.0 454.0L882.6 452.1L883.2 450.2L883.7 448.2L884.3 446.2L884.9 444.1L885.5 441.9L886.1 439.8L886.7 437.5L887.3 435.3L887.9 433.0L888.5 430.7L889.1 428.4L889.7 426.1L890.3 423.7L890.9 421.4L891.5 419.0L892.1 416.7L892.7 414.4L893.3 412.1L894.0 409.8L894.6 407.6L895.2 405.4L895.8 403.2L896.4 401.1L897.1 399.1L897.7 397.1L898.3 395.2L899.0 393.4L899.6 391.7L900.2 390.0L900.9 388.5L901.5 387.2L902.2 385.9L902.8 384.9L903.4 384.0L904.1 383.3L904.7 382.8L905.4 382.7L906.1 383.0L906.7 383.5L907.4 384.3L908.0 385.2L908.7 386.3L909.4 387.5L910.0 388.8L910.7 390.2L911.4 391.7L912.0 393.3L912.7 394.9L913.4 396.6L914.1 398.3L914.7 400.1L915.4 401.9L916.1 403.8L916.8 405.6L917.5 407.5L918.2 409.4L918.9 411.2L919.6 413.1L920.3 415.0L921.0 416.8L921.7 418.7L922.4 420.5L923.1 422.3L923.8 424.1L924.5 425.9L925.2 427.6L925.9 429.3L926.6 431.0L927.3 432.6L928.0 434.2L928.7 435.8L929.5 437.3L930.2 438.8L930.9 440.3L931.6 441.7L932.4 443.0L933.1 444.3L933.8 445.6L934.6 446.9L935.3 448.0L936.0 449.2L936.8 450.3L937.5 451.4L938.2 452.4L939.0 453.3L939.7 454.3L940.5 455.2L941.2 456.0L942.0 456.8L942.7 457.6L943.5 458.3L944.2 459.0L945.0 459.7L945.8 460.3L946.5 460.9L947.3 461.4L948.0 461.9L948.8 462.4L949.6 462.9L950.4 463.3L951.1 463.7L951.9 464.0L952.7 464.4L953.4 464.7L954.2 465.0L955.0 465.2L955.8 465.5L956.6 465.7L957.4 465.9L958.1 466.0L958.9 466.2L959.7 466.3L960.5 466.4L961.3 466.5L962.1 466.5L962.9 466.6L963.7 466.6L964.5 466.6L965.3 466.6L966.1 466.6L966.9 466.5L967.7 466.4L968.5 466.3L969.4 466.2L970.2 466.1L971.0 465.9L971.8 465.8L972.6 465.6L973.4 465.4L974.3 465.1L975.1 464.9L975.9 464.6L976.7 464.3L977.6 463.9L978.4 463.6L979.2 463.2L980.1 462.8L980.9 462.3L981.7 461.9L982.6 461.4L983.4 460.8L984.2 460.3L985.1 459.7L985.9 459.1L986.8 458.4L987.6 457.7L988.5 457.0L989.3 456.3L990.2 455.5L991.0 454.7L991.9 453.8L992.8 452.9L993.6 452.0L994.5 451.1L995.3 450.1L996.2 449.0L997.1 448.0L997.9 446.9L998.8 445.8L999.7 444.6L1000.5 443.5L1001.4 442.2L1002.3 441.0L1003.2 439.7L1004.1 438.4L1004.9 437.1L1005.8 435.7L1006.7 434.3L1007.6 432.9L1008.5 431.5L1009.4 430.1L1010.3 428.6L1011.1 427.1L1012.0 425.6L1012.9 424.1L1013.8 422.6L1014.7 421.1L1015.6 419.5L1016.5 418.0L1017.4 416.4L1018.3 414.9L1019.2 413.3L1020.2 411.8L1021.1 410.3L1022.0 408.7L1022.9 407.2L1023.8 405.7L1024.7 404.2L1025.6 402.8L1026.6 401.3L1027.5 399.9L1028.4 398.6L1029.3 397.2L1030.2 395.9L1031.2 394.6L1032.1 393.4L1033.0 392.2L1034.0 391.1L1034.9 390.0L1035.8 389.0L1036.8 388.0L1037.7 387.1L1038.6 386.3L1039.6 385.5L1040.5 384.8L1041.5 384.2L1042.4 383.7L1043.4 383.3L1044.3 382.9L1045.3 382.7L1046.2 382.7L1047.2 382.9L1048.1 383.1L1049.1 383.5L1050.0 383.9L1051.0 384.4L1052.0 385.0L1052.9 385.6L1053.9 386.3L1054.8 387.0L1055.8 387.8L1056.8 388.5L1057.7 389.3L1058.7 390.2L1059.7 391.0L1060.7 391.8L1061.6 392.7L1062.6 393.6L1063.6 394.4L1064.6 395.3L1065.6 396.2L1066.5 397.0L1067.5 397.9L1068.5 398.8L1069.5 399.6L1070.5 400.4L1071.5 401.3L1072.5 402.1L1073.5 402.9L1074.5 403.6L1075.5 404.4L1076.5 405.1L1077.5 405.9L1078.5 406.6L1079.5 407.2L1080.5 407.9L1081.5 408.5L1082.5 409.1L1083.5 409.7L1084.5 410.3L1085.5 410.8L1086.5 411.3L1087.5 411.8L1088.5 412.2L1089.6 412.6L1090.6 413.0L1091.6 413.4L1092.6 413.8L1093.6 414.1L1094.7 414.4L1095.7 414.6L1096.7 414.8L1097.7 415.0L1098.8 415.2L1099.8 415.4L1100.8 415.5L1101.9 415.6L1102.9 415.6L1104.0 415.7L1105.0 415.7L1106.0 415.7L1107.1 415.6L1108.1 415.6L1109.2 415.5L1110.2 415.4L1111.3 415.2L1112.3 415.0L1113.4 414.8L1114.4 414.6L1115.5 414.4L1116.5 414.1L1117.6 413.8L1118.6 413.5L1119.7 413.2L1120.7 412.8L1121.8 412.4L1122.9 412.0L1123.9 411.6L1125.0 411.2L1126.1 410.7L1127.1 410.2L1128.2 409.7L1129.3 409.2L1130.4 408.7L1131.4 408.1L1132.5 407.6L1133.6 407.0L1134.7 406.4L1135.7 405.8L1136.8 405.2L1137.9 404.6L1139.0 404.0L1140.1 403.3L1141.2 402.7L1142.3 402.0L1143.3 401.4L1144.4 400.7L1145.5 400.0L1146.6 399.4L1147.7 398.7L1148.8 398.0L1149.9 397.3L1151.0 396.7L1152.1 396.0L1153.2 395.3L1154.3 394.7L1155.4 394.0L1156.5 393.4L1157.6 392.7L1158.7 392.1L1159.9 391.5L1161.0 390.9L1162.1 390.3L1163.2 389.7L1164.3 389.1L1165.4 388.6L1166.5 388.1L1167.7 387.6L1168.8 387.1L1169.9 386.6L1171.0 386.1L1172.2 385.7L1173.3 385.3L1174.4 384.9L1175.6 384.6L1176.7 384.2L1177.8 383.9L1178.9 383.7L1180.1 383.4L1181.2 383.2L1182.4 383.0L1183.5 382.9L1184.6 382.8L1185.8 382.7L1186.9 382.7L1188.1 382.8L1189.2 382.8L1190.4 383.0L1191.5 383.1L1192.7 383.3L1193.8 383.5L1195.0 383.7L1196.1 383.9L1197.3 384.1L1198.4 384.4L1199.6 384.7L1200.8 384.9L1201.9 385.2L1203.1 385.5L1204.2 385.8L1205.4 386.1L1206.6 386.4L1207.7 386.7L1208.9 387.0L1210.1 387.3L1211.2 387.5L1212.4 387.8L1213.6 388.1L1214.8 388.4L1215.9 388.7L1217.1 388.9L1218.3 389.2L1219.5 389.4L1220.7 389.7L1221.9 389.9L1223.0 390.1L1224.2 390.4L1225.4 390.6L1226.6 390.7L1227.8 390.9L1229.0 391.1L1230.2 391.3L1231.4 391.4L1232.6 391.6L1233.8 391.7L1235.0 391.8L1236.2 391.9L1237.4 392.0L1238.6 392.1L1239.8 392.1L1241.0 392.2L1242.2 392.2L1243.4 392.2L1244.6 392.3L1245.8 392.3L1247.0 392.3L1248.2 392.2L1249.4 392.2L1250.7 392.2L1251.9 392.1L1253.1 392.0L1254.3 392.0L1255.5 391.9L1256.7 391.8L1258.0 391.7L1259.2 391.5L1260.4 391.4L1261.6 391.3L1262.9 391.1L1264.1 391.0L1265.3 390.8L1266.6 390.7L1267.8 390.5L1269.0 390.3L1270.3 390.1L1271.5 389.9L1272.7 389.7L1274.0 389.5L1275.2 389.3L1276.5 389.1L1277.7 388.9L1279.0 388.7L1280.2 388.5L1281.4 388.2L1282.7 388.0L1283.9 387.8L1285.2 387.6L1286.4 387.3L1287.7 387.1L1289.0 386.9L1290.2 386.7L1291.5 386.4L1292.7 386.2L1294.0 386.0L1295.3 385.8L1296.5 385.6L1297.8 385.4L1299.0 385.2L1300.3 385.0L1301.6 384.8L1302.8 384.6L1304.1 384.4L1305.4 384.3L1306.7 384.1L1307.9 384.0L1309.2 383.8L1310.5 383.7L1311.8 383.5L1313.0 383.4L1314.3 383.3L1315.6 383.2L1316.9 383.1L1318.2 383.0L1319.5 382.9L1320.7 382.9L1322.0 382.8L1323.3 382.8L1324.6 382.7L1325.9 382.7L1327.2 382.7L1328.5 382.7L1329.8 382.7L1331.1 382.8L1332.4 382.8L1333.7 382.9L1335.0 382.9L1336.3 383.0L1337.6 383.0L1338.9 383.1L1340.2 383.2L1341.5 383.3L1342.8 383.3L1344.1 383.4L1345.4 383.5L1346.7 383.6L1348.0 383.7L1349.4 383.8L1350.7 383.8L1352.0 383.9L1353.3 384.0L1354.6 384.1L1355.9 384.2L1357.3 384.3L1358.6 384.3L1359.9 384.4L1361.2 384.5L1362.6 384.5L1363.9 384.6L1365.2 384.7L1366.5 384.7L1367.9 384.8L1369.2 384.9L1370.5 384.9L1371.9 384.9L1373.2 385.0L1374.5 385.0L1375.9 385.1L1377.2 385.1L1378.6 385.1L1379.9 385.1L1381.2 385.2L1382.6 385.2L1383.9 385.2L1385.3 385.2L1386.6 385.2L1388.0 385.2L1389.3 385.2L1390.7 385.2L1392.0 385.1L1393.4 385.1L1394.7 385.1L1396.1 385.1L1397.5 385.0L1398.8 385.0L1400.2 385.0L1401.5 384.9L1402.9 384.9L1404.3 384.8L1405.6 384.8L1407.0 384.8L1408.4 384.7L1409.7 384.6L1411.1 384.6L1412.5 384.5L1413.8 384.5L1415.2 384.4L1416.6 384.4L1418.0 384.3L1419.3 384.2L1420.7 384.2L1422.1 384.1L1423.5 384.0L1424.9 384.0L1426.2 383.9L1427.6 383.8L1429.0 383.8L1430.4 383.7"/>
<path class="c b" d="M823.6 49.5L823.7 49.5L823.7 49.5L823.7 49.6L823.8 49.6L823.9 49.8L823.9 50.0L824.0 50.2L824.1 50.6L824.2 51.0L824.3 51.5L824.4 52.1L824.6 52.9L824.7 53.7L824.8 54.7L824.9 55.8L825.1 57.0L825.2 58.3L825.4 59.8L825.5 61.4L825.7 63.2L825.9 65.1L826.0 67.2L826.2 69.4L826.4 71.8L826.6 74.3L826.8 77.0L827.0 79.8L827.2 82.8L827.4 85.9L827.6 89.2L827.8 92.6L828.0 96.2L828.2 100.0L828.4 103.9L828.7 107.9L828.9 112.1L829.1 116.4L829.4 120.9L829.6 125.5L829.9 130.2L830.1 135.1L830.4 140.1L830.6 145.2L830.9 150.5L831.2 155.8L831.4 161.3L831.7 166.8L832.0 172.5L832.3 178.3L832.5 184.1L832.8 190.1L833.1 196.1L833.4 202.2L833.7 208.4L834.0 214.6L834.3 220.9L834.6 227.2L834.9 233.6L835.2 240.0L835.6 246.5L835.9 253.0L836.2 259.5L836.5 266.0L836.9 272.5L837.2 279.0L837.5 285.5L837.9 292.0L838.2 298.5L838.5 305.0L838.9 311.4L839.2 317.8L839.6 324.1L839.9 330.4L840.3 336.6L840.7 342.7L841.0 348.8L841.4 354.8L841.8 360.7L842.1 366.5L842.5 372.2L842.9 377.8L843.3 383.3L843.7 388.6L844.1 393.9L844.4 399.0L844.8 404.0L845.2 408.8L845.6 413.5L846.0 418.1L846.4 422.5L846.8 426.7L847.3 430.8L847.7 434.7L848.1 438.4L848.5 442.0L848.9 445.4L849.3 448.5L849.8 451.6L850.2 454.4L850.6 457.0L851.1 459.4L851.5 461.7L851.9 463.7L852.4 465.6L852.8 467.2L853.3 468.6L853.7 469.9L854.2 470.9L854.6 471.8L855.1 472.4L855.5 472.9L856.0 473.1L856.4 473.2L856.9 473.0L857.4 472.7L857.8 472.2L858.3 471.5L858.8 470.6L859.3 469.5L859.8 468.3L860.2 466.9L860.7 465.3L861.2 463.6L861.7 461.7L862.2 459.6L862.7 457.5L863.2 455.2L863.7 452.7L864.2 450.2L864.7 447.5L865.2 444.8L865.7 441.9L866.2 439.0L866.7 436.0L867.2 432.9L867.8 429.8L868.3 426.7L868.8 423.5L869.3 420.3L869.9 417.2L870.4 414.0L870.9 410.9L871.4 407.8L872.0 404.8L872.5 401.8L873.1 399.0L873.6 396.3L874.1 393.7L874.7 391.3L875.2 389.2L875.8 387.2L876.3 385.5L876.9 384.1L877.5 383.2L878.0 382.7L878.6 383.0L879.1 383.9L879.7 385.1L880.3 386.7L880.9 388.5L881.4 390.6L882.0 392.8L882.6 395.2L883.2 397.8L883.7 400.4L884.3 403.1L884.9 405.9L885.5 408.8L886.1 411.6L886.7 414.5L887.3 417.4L887.9 420.3L888.5 423.2L889.1 426.0L889.7 428.8L890.3 431.6L890.9 434.2L891.5 436.9L892.1 439.4L892.7 441.9L893.3 444.3L894.0 446.6L894.6 448.8L895.2 450.9L895.8 452.9L896.4 454.9L897.1 456.7L897.7 458.4L898.3 460.0L899.0 461.5L899.6 462.9L900.2 464.2L900.9 465.4L901.5 466.5L902.2 467.4L902.8 468.3L903.4 469.1L904.1 469.9L904.7 470.5L905.4 471.0L906.1 471.5L906.7 471.9L907.4 472.3L908.0 472.5L908.7 472.8L909.4 472.9L910.0 473.0L910.7 473.1L911.4 473.2L912.0 473.2L912.7 473.2L913.4 473.1L914.1 473.1L914.7 473.0L915.4 473.0L916.1 472.9L916.8 472.8L917.5 472.8L918.2 472.7L918.9 472.6L919.6 472.6L920.3 472.6L921.0 472.6L921.7 472.6L922.4 472.6L923.1 472.6L923.8 472.6L924.5 472.7L925.2 472.7L925.9 472.8L926.6 472.9L927.3 472.9L928.0 473.0L928.7 473.1L929.5 473.1L930.2 473.2L930.9 473.2L931.6 473.2L932.4 473.1L933.1 473.1L933.8 473.0L934.6 472.8L935.3 472.6L936.0 472.4L936.8 472.1L937.5 471.7L938.2 471.3L939.0 470.8L939.7 470.2L940.5 469.5L941.2 468.8L942.0 467.9L942.7 467.0L943.5 466.0L944.2 464.8L945.0 463.6L945.8 462.3L946.5 460.9L947.3 459.4L948.0 457.7L948.8 456.0L949.6 454.2L950.4 452.3L951.1 450.3L951.9 448.2L952.7 446.0L953.4 443.8L954.2 441.5L955.0 439.0L955.8 436.6L956.6 434.0L957.4 431.5L958.1 428.8L958.9 426.2L959.7 423.5L960.5 420.8L961.3 418.1L962.1 415.4L962.9 412.7L963.7 410.0L964.5 407.3L965.3 404.7L966.1 402.2L966.9 399.7L967.7 397.4L968.5 395.1L969.4 393.0L970.2 390.9L971.0 389.1L971.8 387.4L972.6 385.9L973.4 384.7L974.3 383.7L975.1 383.0L975.9 382.7L976.7 383.0L977.6 383.6L978.4 384.6L979.2 385.7L980.1 387.1L980.9 388.6L981.7 390.2L982.6 392.0L983.4 393.8L984.2 395.7L985.1 397.7L985.9 399.7L986.8 401.7L987.6 403.7L988.5 405.7L989.3 407.8L990.2 409.8L991.0 411.8L991.9 413.7L992.8 415.7L993.6 417.5L994.5 419.4L995.3 421.2L996.2 422.9L997.1 424.6L997.9 426.2L998.8 427.8L999.7 429.3L1000.5 430.7L1001.4 432.1L1002.3 433.4L1003.2 434.6L1004.1 435.8L1004.9 436.9L1005.8 437.9L1006.7 438.8L1007.6 439.7L1008.5 440.5L1009.4 441.3L1010.3 442.0L1011.1 442.6L1012.0 443.1L1012.9 443.6L1013.8 444.0L1014.7 444.3L1015.6 444.6L1016.5 444.9L1017.4 445.0L1018.3 445.1L1019.2 445.1L1020.2 445.1L1021.1 445.0L1022.0 444.9L1022.9 444.7L1023.8 444.4L1024.7 444.1L1025.6 443.7L1026.6 443.2L1027.5 442.7L1028.4 442.1L1029.3 441.5L1030.2 440.8L1031.2 440.0L1032.1 439.2L1033.0 438.3L1034.0 437.4L1034.9 436.4L1035.8 435.4L1036.8 434.3L1037.7 433.1L1038.6 431.9L1039.6 430.6L1040.5 429.3L1041.5 428.0L1042.4 426.5L1043.4 425.1L1044.3 423.6L1045.3 422.1L1046.2 420.5L1047.2 418.9L1048.1 417.2L1049.1 415.6L1050.0 413.9L1051.0 412.2L1052.0 410.5L1052.9 408.8L1053.9 407.1L1054.8 405.4L1055.8 403.7L1056.8 402.0L1057.7 400.3L1058.7 398.7L1059.7 397.1L1060.7 395.5L1061.6 394.0L1062.6 392.6L1063.6 391.2L1064.6 389.8L1065.6 388.6L1066.5 387.4L1067.5 386.4L1068.5 385.4L1069.5 384.6L1070.5 383.9L1071.5 383.3L1072.5 382.9L1073.5 382.7L1074.5 382.8L1075.5 383.1L1076.5 383.5L1077.5 384.1L1078.5 384.8L1079.5 385.6L1080.5 386.4L1081.5 387.3L1082.5 388.3L1083.5 389.3L1084.5 390.4L1085.5 391.4L1086.5 392.5L1087.5 393.6L1088.5 394.7L1089.6 395.8L1090.6 396.8L1091.6 397.9L1092.6 399.0L1093.6 400.0L1094.7 401.0L1095.7 402.0L1096.7 402.9L1097.7 403.9L1098.8 404.7L1099.8 405.6L1100.8 406.4L1101.9 407.1L1102.9 407.8L1104.0 408.5L1105.0 409.1L1106.0 409.7L1107.1 410.2L1108.1 410.7L1109.2 411.1L1110.2 411.4L1111.3 411.7L1112.3 412.0L1113.4 412.2L1114.4 412.4L1115.5 412.5L1116.5 412.5L1117.6 412.5L1118.6 412.5L1119.7 412.4L1120.7 412.2L1121.8 412.0L1122.9 411.8L1123.9 411.5L1125.0 411.2L1126.1 410.8L1127.1 410.4L1128.2 409.9L1129.3 409.4L1130.4 408.8L1131.4 408.2L1132.5 407.6L1133.6 406.9L1134.7 406.2L1135.7 405.5L1136.8 404.7L1137.9 404.0L1139.0 403.2L1140.1 402.3L1141.2 401.5L1142.3 400.6L1143.3 399.7L1144.4 398.8L1145.5 397.9L1146.6 397.0L1147.7 396.1L1148.8 395.2L1149.9 394.3L1151.0 393.4L1152.1 392.5L1153.2 391.7L1154.3 390.8L1155.4 390.0L1156.5 389.2L1157.6 388.4L1158.7 387.7L1159.9 386.9L1161.0 386.3L1162.1 385.6L1163.2 385.1L1164.3 384.5L1165.4 384.1L1166.5 383.7L1167.7 383.3L1168.8 383.0L1169.9 382.8L1171.0 382.7L1172.2 382.7L1173.3 382.8L1174.4 383.0L1175.6 383.3L1176.7 383.6L1177.8 384.0L1178.9 384.4L1180.1 384.8L1181.2 385.2L1182.4 385.7L1183.5 386.2L1184.6 386.7L1185.8 387.2L1186.9 387.7L1188.1 388.2L1189.2 388.8L1190.4 389.3L1191.5 389.8L1192.7 390.3L1193.8 390.7L1195.0 391.2L1196.1 391.6L1197.3 392.1L1198.4 392.5L1199.6 392.9L1200.8 393.2L1201.9 393.5L1203.1 393.9L1204.2 394.1L1205.4 394.4L1206.6 394.6L1207.7 394.8L1208.9 395.0L1210.1 395.1L1211.2 395.2L1212.4 395.3L1213.6 395.4L1214.8 395.4L1215.9 395.4L1217.1 395.3L1218.3 395.3L1219.5 395.2L1220.7 395.0L1221.9 394.9L1223.0 394.7L1224.2 394.5L1225.4 394.3L1226.6 394.0L1227.8 393.7L1229.0 393.5L1230.2 393.1L1231.4 392.8L1232.6 392.5L1233.8 392.1L1235.0 391.7L1236.2 391.3L1237.4 390.9L1238.6 390.5L1239.8 390.1L1241.0 389.7L1242.2 389.3L1243.4 388.8L1244.6 388.4L1245.8 388.0L1247.0 387.6L1248.2 387.2L1249.4 386.7L1250.7 386.3L1251.9 386.0L1253.1 385.6L1254.3 385.2L1255.5 384.9L1256.7 384.6L1258.0 384.3L1259.2 384.0L1260.4 383.7L1261.6 383.5L1262.9 383.3L1264.1 383.1L1265.3 382.9L1266.6 382.8L1267.8 382.7L1269.0 382.7L1270.3 382.7L1271.5 382.8L1272.7 382.9L1274.0 383.0L1275.2 383.1L1276.5 383.3L1277.7 383.5L1279.0 383.6L1280.2 383.8L1281.4 384.1L1282.7 384.3L1283.9 384.5L1285.2 384.7L1286.4 384.9L1287.7 385.2L1289.0 385.4L1290.2 385.6L1291.5 385.8L1292.7 386.0L1294.0 386.2L1295.3 386.4L1296.5 386.6L1297.8 386.8L1299.0 386.9L1300.3 387.1L1301.6 387.2L1302.8 387.3L1304.1 387.4L1305.4 387.5L1306.7 387.6L1307.9 387.7L1309.2 387.7L1310.5 387.7L1311.8 387.8L1313.0 387.8L1314.3 387.8L1315.6 387.7L1316.9 387.7L1318.2 387.6L1319.5 387.6L1320.7 387.5L1322.0 387.4L1323.3 387.3L1324.6 387.2L1325.9 387.1L1327.2 386.9L1328.5 386.8L1329.8 386.6L1331.1 386.5L1332.4 386.3L1333.7 386.1L1335.0 386.0L1336.3 385.8L1337.6 385.6L1338.9 385.4L1340.2 385.2L1341.5 385.0L1342.8 384.9L1344.1 384.7L1345.4 384.5L1346.7 384.3L1348.0 384.1L1349.4 384.0L1350.7 383.8L1352.0 383.7L1353.3 383.5L1354.6 383.4L1355.9 383.3L1357.3 383.2L1358.6 383.0L1359.9 383.0L1361.2 382.9L1362.6 382.8L1363.9 382.8L1365.2 382.7L1366.5 382.7L1367.9 382.7L1369.2 382.7L1370.5 382.8L1371.9 382.8L1373.2 382.9L1374.5 382.9L1375.9 383.0L1377.2 383.1L1378.6 383.2L1379.9 383.2L1381.2 383.3L1382.6 383.4L1383.9 383.5L1385.3 383.6L1386.6 383.7L1388.0 383.8L1389.3 383.9L1390.7 384.0L1392.0 384.1L1393.4 384.1L1394.7 384.2L1396.1 384.3L1397.5 384.3L1398.8 384.4L1400.2 384.5L1401.5 384.5L1402.9 384.5L1404.3 384.6L1405.6 384.6L1407.0 384.6L1408.4 384.6L1409.7 384.6L1411.1 384.6L1412.5 384.6L1413.8 384.6L1415.2 384.6L1416.6 384.6L1418.0 384.6L1419.3 384.5L1420.7 384.5L1422.1 384.4L1423.5 384.4L1424.9 384.3L1426.2 384.3L1427.6 384.2L1429.0 384.1L1430.4 384.1"/>
</g>
<text y="111.6"><tspan x="1354.19" font-size="48">(</tspan><tspan x="1371.27" y="113.3" font-size="51">b</tspan><tspan x="1397.30" y="111.6" font-size="48">)</tspan></text>
<g role="img" aria-label="|Ψ⟩, γ = 2.0λ"><text transform="translate(1120.03 203.48) scale(0.8936 1)" style='font-family:"Liberation Serif",serif' font-size="56.17">|</text><text transform="translate(1134.32 201.65) scale(0.8551 1)" style='font-family:"Liberation Serif",serif' font-size="52.69">Ψ</text><text transform="translate(1166.56 207.88) scale(0.9655 1)" style='font-family:"DejaVu Sans",sans-serif' font-size="60.07" stroke="#fff" stroke-width="1.9">⟩</text><text transform="translate(1192.27 202.61) scale(0.6851 1)" style='font-family:"Liberation Serif",serif' font-size="56.85">,</text><text transform="translate(1209.67 202.09) scale(1.3597 1)" style='font-family:"Liberation Serif",serif' font-style="italic" font-size="50.08" stroke="#fff" stroke-width="1.1">γ</text><text transform="translate(1252.19 204.07) scale(1.5548 1)" style='font-family:"Liberation Serif",serif' font-size="47.20">=</text><text x="1304.80" y="201.7" font-size="51.8">2.0</text><text transform="translate(1370.88 201.80) scale(1.0332 1) skewX(-9)" style='font-family:"DejaVu Sans",sans-serif;font-weight:200' font-size="47.16" stroke="#000" stroke-width="1.2">λ</text></g>
</g>
<g id="panel-c">
<clipPath id="cp2"><rect x="165.20" y="611.40" width="606.40" height="499.90"/></clipPath>
<path class="t" d="M225.84 1111.30v-6M225.84 611.40v6M286.48 1111.30v-6M286.48 611.40v6M347.12 1111.30v-6M347.12 611.40v6M407.76 1111.30v-6M407.76 611.40v6M468.40 1111.30v-6M468.40 611.40v6M529.04 1111.30v-6M529.04 611.40v6M589.68 1111.30v-6M589.68 611.40v6M650.32 1111.30v-6M650.32 611.40v6M710.96 1111.30v-6M710.96 611.40v6M165.20 644.73h6M771.60 644.73h-6M165.20 678.05h6M771.60 678.05h-6M165.20 711.38h6M771.60 711.38h-6M165.20 744.71h6M771.60 744.71h-6M165.20 778.03h6M771.60 778.03h-6M165.20 811.36h6M771.60 811.36h-6M165.20 844.69h6M771.60 844.69h-6M165.20 878.01h6M771.60 878.01h-6M165.20 911.34h6M771.60 911.34h-6M165.20 944.67h6M771.60 944.67h-6M165.20 977.99h6M771.60 977.99h-6M165.20 1011.32h6M771.60 1011.32h-6M165.20 1044.65h6M771.60 1044.65h-6M165.20 1077.97h6M771.60 1077.97h-6"/>
<rect class="fr" x="165.20" y="611.40" width="606.40" height="499.90"/>
<g clip-path="url(#cp2)">
<path class="c k" d="M165.2 611.4L165.2 611.4L165.3 611.4L165.3 611.4L165.4 611.4L165.4 611.4L165.5 611.5L165.6 611.5L165.7 611.5L165.8 611.6L165.9 611.7L166.0 611.8L166.1 611.9L166.2 612.0L166.4 612.1L166.5 612.3L166.6 612.5L166.8 612.7L166.9 612.9L167.1 613.2L167.3 613.4L167.4 613.7L167.6 614.0L167.8 614.4L167.9 614.8L168.1 615.2L168.3 615.6L168.5 616.1L168.7 616.6L168.9 617.1L169.1 617.7L169.3 618.3L169.6 618.9L169.8 619.5L170.0 620.2L170.2 620.9L170.5 621.7L170.7 622.5L170.9 623.3L171.2 624.2L171.4 625.0L171.7 626.0L171.9 626.9L172.2 627.9L172.4 629.0L172.7 630.0L173.0 631.1L173.3 632.3L173.5 633.4L173.8 634.6L174.1 635.9L174.4 637.1L174.7 638.5L175.0 639.8L175.3 641.2L175.6 642.6L175.9 644.0L176.2 645.5L176.5 647.0L176.8 648.6L177.1 650.2L177.4 651.8L177.7 653.4L178.1 655.1L178.4 656.8L178.7 658.6L179.1 660.4L179.4 662.2L179.7 664.0L180.1 665.9L180.4 667.8L180.8 669.7L181.1 671.7L181.5 673.7L181.8 675.7L182.2 677.7L182.6 679.8L182.9 681.9L183.3 684.0L183.7 686.2L184.1 688.4L184.4 690.6L184.8 692.8L185.2 695.1L185.6 697.3L186.0 699.6L186.4 702.0L186.8 704.3L187.2 706.7L187.6 709.1L188.0 711.5L188.4 713.9L188.8 716.4L189.2 718.8L189.6 721.3L190.0 723.8L190.4 726.4L190.9 728.9L191.3 731.4L191.7 734.0L192.2 736.6L192.6 739.2L193.0 741.8L193.5 744.4L193.9 747.1L194.3 749.7L194.8 752.4L195.2 755.1L195.7 757.8L196.1 760.5L196.6 763.2L197.1 765.9L197.5 768.6L198.0 771.3L198.4 774.1L198.9 776.8L199.4 779.6L199.8 782.3L200.3 785.1L200.8 787.9L201.3 790.6L201.8 793.4L202.2 796.2L202.7 799.0L203.2 801.7L203.7 804.5L204.2 807.3L204.7 810.1L205.2 812.9L205.7 815.7L206.2 818.4L206.7 821.2L207.2 824.0L207.7 826.8L208.2 829.6L208.8 832.3L209.3 835.1L209.8 837.9L210.3 840.6L210.8 843.4L211.4 846.1L211.9 848.9L212.4 851.6L213.0 854.3L213.5 857.1L214.0 859.8L214.6 862.5L215.1 865.2L215.7 867.9L216.2 870.6L216.8 873.2L217.3 875.9L217.9 878.5L218.4 881.2L219.0 883.8L219.5 886.5L220.1 889.1L220.7 891.7L221.2 894.3L221.8 896.8L222.4 899.4L222.9 902.0L223.5 904.5L224.1 907.0L224.7 909.5L225.3 912.0L225.8 914.5L226.4 917.0L227.0 919.5L227.6 921.9L228.2 924.3L228.8 926.7L229.4 929.1L230.0 931.5L230.6 933.9L231.2 936.3L231.8 938.6L232.4 940.9L233.0 943.2L233.6 945.5L234.2 947.8L234.8 950.0L235.5 952.3L236.1 954.5L236.7 956.7L237.3 958.9L237.9 961.1L238.6 963.2L239.2 965.3L239.8 967.5L240.5 969.6L241.1 971.6L241.7 973.7L242.4 975.7L243.0 977.8L243.7 979.8L244.3 981.8L245.0 983.7L245.6 985.7L246.3 987.6L246.9 989.6L247.6 991.5L248.2 993.3L248.9 995.2L249.5 997.0L250.2 998.9L250.9 1000.7L251.5 1002.4L252.2 1004.2L252.9 1006.0L253.5 1007.7L254.2 1009.4L254.9 1011.1L255.6 1012.8L256.2 1014.4L256.9 1016.0L257.6 1017.7L258.3 1019.3L259.0 1020.8L259.7 1022.4L260.4 1023.9L261.1 1025.5L261.8 1027.0L262.5 1028.4L263.1 1029.9L263.8 1031.3L264.6 1032.8L265.3 1034.2L266.0 1035.6L266.7 1036.9L267.4 1038.3L268.1 1039.6L268.8 1040.9L269.5 1042.2L270.2 1043.5L271.0 1044.8L271.7 1046.0L272.4 1047.2L273.1 1048.5L273.9 1049.6L274.6 1050.8L275.3 1052.0L276.0 1053.1L276.8 1054.2L277.5 1055.3L278.2 1056.4L279.0 1057.5L279.7 1058.5L280.5 1059.5L281.2 1060.6L282.0 1061.5L282.7 1062.5L283.5 1063.5L284.2 1064.4L285.0 1065.4L285.7 1066.3L286.5 1067.2L287.2 1068.0L288.0 1068.9L288.8 1069.8L289.5 1070.6L290.3 1071.4L291.1 1072.2L291.8 1073.0L292.6 1073.7L293.4 1074.5L294.1 1075.2L294.9 1075.9L295.7 1076.6L296.5 1077.3L297.3 1078.0L298.0 1078.7L298.8 1079.3L299.6 1079.9L300.4 1080.5L301.2 1081.1L302.0 1081.7L302.8 1082.3L303.6 1082.9L304.4 1083.4L305.2 1083.9L306.0 1084.4L306.8 1084.9L307.6 1085.4L308.4 1085.9L309.2 1086.4L310.0 1086.8L310.8 1087.2L311.6 1087.6L312.4 1088.1L313.3 1088.4L314.1 1088.8L314.9 1089.2L315.7 1089.5L316.5 1089.9L317.4 1090.2L318.2 1090.5L319.0 1090.8L319.8 1091.1L320.7 1091.4L321.5 1091.7L322.3 1091.9L323.2 1092.2L324.0 1092.4L324.9 1092.6L325.7 1092.8L326.5 1093.0L327.4 1093.2L328.2 1093.4L329.1 1093.6L329.9 1093.7L330.8 1093.9L331.6 1094.0L332.5 1094.1L333.3 1094.3L334.2 1094.4L335.1 1094.5L335.9 1094.5L336.8 1094.6L337.7 1094.7L338.5 1094.7L339.4 1094.8L340.3 1094.8L341.1 1094.8L342.0 1094.9L342.9 1094.9L343.7 1094.9L344.6 1094.9L345.5 1094.8L346.4 1094.8L347.3 1094.8L348.1 1094.7L349.0 1094.7L349.9 1094.6L350.8 1094.5L351.7 1094.5L352.6 1094.4L353.5 1094.3L354.4 1094.2L355.3 1094.1L356.2 1094.0L357.1 1093.8L358.0 1093.7L358.9 1093.6L359.8 1093.4L360.7 1093.3L361.6 1093.1L362.5 1092.9L363.4 1092.8L364.3 1092.6L365.2 1092.4L366.2 1092.2L367.1 1092.0L368.0 1091.8L368.9 1091.6L369.8 1091.4L370.8 1091.1L371.7 1090.9L372.6 1090.7L373.5 1090.4L374.5 1090.2L375.4 1089.9L376.3 1089.7L377.3 1089.4L378.2 1089.1L379.1 1088.8L380.1 1088.6L381.0 1088.3L381.9 1088.0L382.9 1087.7L383.8 1087.4L384.8 1087.1L385.7 1086.8L386.7 1086.4L387.6 1086.1L388.6 1085.8L389.5 1085.5L390.5 1085.1L391.5 1084.8L392.4 1084.4L393.4 1084.1L394.3 1083.7L395.3 1083.4L396.3 1083.0L397.2 1082.7L398.2 1082.3L399.2 1081.9L400.1 1081.6L401.1 1081.2L402.1 1080.8L403.1 1080.4L404.0 1080.0L405.0 1079.6L406.0 1079.2L407.0 1078.8L407.9 1078.4L408.9 1078.0L409.9 1077.6L410.9 1077.2L411.9 1076.8L412.9 1076.4L413.9 1076.0L414.9 1075.5L415.9 1075.1L416.9 1074.7L417.9 1074.3L418.9 1073.8L419.9 1073.4L420.9 1073.0L421.9 1072.5L422.9 1072.1L423.9 1071.6L424.9 1071.2L425.9 1070.7L426.9 1070.3L427.9 1069.8L428.9 1069.4L429.9 1068.9L431.0 1068.5L432.0 1068.0L433.0 1067.5L434.0 1067.1L435.0 1066.6L436.1 1066.2L437.1 1065.7L438.1 1065.2L439.1 1064.8L440.2 1064.3L441.2 1063.8L442.2 1063.3L443.3 1062.9L444.3 1062.4L445.3 1061.9L446.4 1061.4L447.4 1061.0L448.5 1060.5L449.5 1060.0L450.5 1059.5L451.6 1059.0L452.6 1058.5L453.7 1058.1L454.7 1057.6L455.8 1057.1L456.8 1056.6L457.9 1056.1L459.0 1055.6L460.0 1055.1L461.1 1054.7L462.1 1054.2L463.2 1053.7L464.2 1053.2L465.3 1052.7L466.4 1052.2L467.4 1051.7L468.5 1051.2L469.6 1050.7L470.7 1050.3L471.7 1049.8L472.8 1049.3L473.9 1048.8L475.0 1048.3L476.0 1047.8L477.1 1047.3L478.2 1046.8L479.3 1046.3L480.4 1045.8L481.4 1045.3L482.5 1044.9L483.6 1044.4L484.7 1043.9L485.8 1043.4L486.9 1042.9L488.0 1042.4L489.1 1041.9L490.2 1041.4L491.3 1040.9L492.4 1040.5L493.5 1040.0L494.6 1039.5L495.7 1039.0L496.8 1038.5L497.9 1038.0L499.0 1037.6L500.1 1037.1L501.2 1036.6L502.3 1036.1L503.4 1035.6L504.6 1035.1L505.7 1034.7L506.8 1034.2L507.9 1033.7L509.0 1033.2L510.1 1032.8L511.3 1032.3L512.4 1031.8L513.5 1031.3L514.6 1030.9L515.8 1030.4L516.9 1029.9L518.0 1029.4L519.2 1029.0L520.3 1028.5L521.4 1028.0L522.6 1027.6L523.7 1027.1L524.8 1026.7L526.0 1026.2L527.1 1025.7L528.3 1025.3L529.4 1024.8L530.6 1024.4L531.7 1023.9L532.8 1023.4L534.0 1023.0L535.2 1022.5L536.3 1022.1L537.5 1021.6L538.6 1021.2L539.8 1020.7L540.9 1020.3L542.1 1019.8L543.2 1019.4L544.4 1019.0L545.6 1018.5L546.7 1018.1L547.9 1017.6L549.1 1017.2L550.2 1016.8L551.4 1016.3L552.6 1015.9L553.7 1015.5L554.9 1015.0L556.1 1014.6L557.3 1014.2L558.4 1013.8L559.6 1013.3L560.8 1012.9L562.0 1012.5L563.2 1012.1L564.4 1011.6L565.5 1011.2L566.7 1010.8L567.9 1010.4L569.1 1010.0L570.3 1009.6L571.5 1009.2L572.7 1008.8L573.9 1008.4L575.1 1007.9L576.3 1007.5L577.5 1007.1L578.7 1006.7L579.9 1006.3L581.1 1005.9L582.3 1005.6L583.5 1005.2L584.7 1004.8L585.9 1004.4L587.1 1004.0L588.3 1003.6L589.5 1003.2L590.7 1002.8L592.0 1002.4L593.2 1002.1L594.4 1001.7L595.6 1001.3L596.8 1000.9L598.0 1000.6L599.3 1000.2L600.5 999.8L601.7 999.4L602.9 999.1L604.2 998.7L605.4 998.3L606.6 998.0L607.9 997.6L609.1 997.3L610.3 996.9L611.6 996.6L612.8 996.2L614.0 995.8L615.3 995.5L616.5 995.1L617.8 994.8L619.0 994.4L620.2 994.1L621.5 993.8L622.7 993.4L624.0 993.1L625.2 992.7L626.5 992.4L627.7 992.1L629.0 991.7L630.2 991.4L631.5 991.1L632.8 990.8L634.0 990.4L635.3 990.1L636.5 989.8L637.8 989.5L639.1 989.1L640.3 988.8L641.6 988.5L642.9 988.2L644.1 987.9L645.4 987.6L646.7 987.3L647.9 986.9L649.2 986.6L650.5 986.3L651.8 986.0L653.0 985.7L654.3 985.4L655.6 985.1L656.9 984.8L658.1 984.5L659.4 984.3L660.7 984.0L662.0 983.7L663.3 983.4L664.6 983.1L665.9 982.8L667.2 982.5L668.4 982.2L669.7 982.0L671.0 981.7L672.3 981.4L673.6 981.1L674.9 980.9L676.2 980.6L677.5 980.3L678.8 980.0L680.1 979.8L681.4 979.5L682.7 979.3L684.0 979.0L685.4 978.7L686.7 978.5L688.0 978.2L689.3 978.0L690.6 977.7L691.9 977.4L693.2 977.2L694.5 976.9L695.9 976.7L697.2 976.4L698.5 976.2L699.8 976.0L701.1 975.7L702.5 975.5L703.8 975.2L705.1 975.0L706.5 974.8L707.8 974.5L709.1 974.3L710.4 974.1L711.8 973.8L713.1 973.6L714.4 973.4L715.8 973.1L717.1 972.9L718.5 972.7L719.8 972.5L721.1 972.2L722.5 972.0L723.8 971.8L725.2 971.6L726.5 971.4L727.9 971.2L729.2 970.9L730.6 970.7L731.9 970.5L733.3 970.3L734.6 970.1L736.0 969.9L737.3 969.7L738.7 969.5L740.0 969.3L741.4 969.1L742.8 968.9L744.1 968.7L745.5 968.5L746.8 968.3L748.2 968.1L749.6 967.9L750.9 967.7L752.3 967.5L753.7 967.4L755.1 967.2L756.4 967.0L757.8 966.8L759.2 966.6L760.5 966.4L761.9 966.2L763.3 966.1L764.7 965.9L766.1 965.7L767.4 965.5L768.8 965.4L770.2 965.2L771.6 965.0"/>
<path class="c r" d="M165.2 611.4L165.2 611.4L165.3 611.4L165.3 611.4L165.4 611.5L165.4 611.5L165.5 611.6L165.6 611.7L165.7 611.9L165.8 612.1L165.9 612.4L166.0 612.7L166.1 613.0L166.2 613.5L166.4 613.9L166.5 614.5L166.6 615.1L166.8 615.8L166.9 616.5L167.1 617.4L167.3 618.3L167.4 619.3L167.6 620.4L167.8 621.5L167.9 622.8L168.1 624.1L168.3 625.5L168.5 627.1L168.7 628.7L168.9 630.4L169.1 632.1L169.3 634.0L169.6 636.0L169.8 638.1L170.0 640.2L170.2 642.5L170.5 644.8L170.7 647.3L170.9 649.8L171.2 652.5L171.4 655.2L171.7 658.0L171.9 660.9L172.2 663.9L172.4 667.0L172.7 670.2L173.0 673.5L173.3 676.8L173.5 680.3L173.8 683.8L174.1 687.4L174.4 691.1L174.7 694.9L175.0 698.7L175.3 702.6L175.6 706.6L175.9 710.7L176.2 714.9L176.5 719.1L176.8 723.3L177.1 727.7L177.4 732.1L177.7 736.5L178.1 741.1L178.4 745.6L178.7 750.2L179.1 754.9L179.4 759.6L179.7 764.4L180.1 769.2L180.4 774.1L180.8 779.0L181.1 783.9L181.5 788.8L181.8 793.8L182.2 798.8L182.6 803.8L182.9 808.9L183.3 814.0L183.7 819.1L184.1 824.2L184.4 829.3L184.8 834.4L185.2 839.5L185.6 844.6L186.0 849.8L186.4 854.9L186.8 860.0L187.2 865.1L187.6 870.2L188.0 875.3L188.4 880.4L188.8 885.5L189.2 890.5L189.6 895.5L190.0 900.5L190.4 905.4L190.9 910.4L191.3 915.3L191.7 920.1L192.2 925.0L192.6 929.7L193.0 934.5L193.5 939.2L193.9 943.8L194.3 948.4L194.8 953.0L195.2 957.5L195.7 962.0L196.1 966.4L196.6 970.7L197.1 975.0L197.5 979.2L198.0 983.4L198.4 987.5L198.9 991.5L199.4 995.5L199.8 999.4L200.3 1003.2L200.8 1007.0L201.3 1010.6L201.8 1014.3L202.2 1017.8L202.7 1021.3L203.2 1024.7L203.7 1028.0L204.2 1031.2L204.7 1034.4L205.2 1037.5L205.7 1040.5L206.2 1043.4L206.7 1046.3L207.2 1049.0L207.7 1051.7L208.2 1054.3L208.8 1056.8L209.3 1059.2L209.8 1061.6L210.3 1063.9L210.8 1066.1L211.4 1068.2L211.9 1070.2L212.4 1072.1L213.0 1074.0L213.5 1075.7L214.0 1077.4L214.6 1079.0L215.1 1080.6L215.7 1082.0L216.2 1083.4L216.8 1084.7L217.3 1085.9L217.9 1087.0L218.4 1088.0L219.0 1089.0L219.5 1089.9L220.1 1090.7L220.7 1091.5L221.2 1092.1L221.8 1092.7L222.4 1093.2L222.9 1093.7L223.5 1094.0L224.1 1094.3L224.7 1094.6L225.3 1094.7L225.8 1094.8L226.4 1094.9L227.0 1094.8L227.6 1094.7L228.2 1094.6L228.8 1094.3L229.4 1094.1L230.0 1093.7L230.6 1093.3L231.2 1092.8L231.8 1092.3L232.4 1091.8L233.0 1091.1L233.6 1090.5L234.2 1089.7L234.8 1089.0L235.5 1088.1L236.1 1087.3L236.7 1086.4L237.3 1085.4L237.9 1084.4L238.6 1083.4L239.2 1082.3L239.8 1081.2L240.5 1080.0L241.1 1078.9L241.7 1077.6L242.4 1076.4L243.0 1075.1L243.7 1073.8L244.3 1072.4L245.0 1071.1L245.6 1069.7L246.3 1068.3L246.9 1066.8L247.6 1065.4L248.2 1063.9L248.9 1062.4L249.5 1060.9L250.2 1059.3L250.9 1057.8L251.5 1056.2L252.2 1054.6L252.9 1053.0L253.5 1051.4L254.2 1049.8L254.9 1048.2L255.6 1046.6L256.2 1045.0L256.9 1043.3L257.6 1041.7L258.3 1040.0L259.0 1038.4L259.7 1036.8L260.4 1035.1L261.1 1033.5L261.8 1031.8L262.5 1030.2L263.1 1028.6L263.8 1026.9L264.6 1025.3L265.3 1023.7L266.0 1022.1L266.7 1020.5L267.4 1018.9L268.1 1017.3L268.8 1015.8L269.5 1014.2L270.2 1012.7L271.0 1011.1L271.7 1009.6L272.4 1008.1L273.1 1006.6L273.9 1005.1L274.6 1003.7L275.3 1002.2L276.0 1000.8L276.8 999.4L277.5 998.0L278.2 996.6L279.0 995.2L279.7 993.9L280.5 992.6L281.2 991.2L282.0 990.0L282.7 988.7L283.5 987.4L284.2 986.2L285.0 985.0L285.7 983.8L286.5 982.6L287.2 981.5L288.0 980.4L288.8 979.2L289.5 978.2L290.3 977.1L291.1 976.0L291.8 975.0L292.6 974.0L293.4 973.0L294.1 972.0L294.9 971.1L295.7 970.2L296.5 969.3L297.3 968.4L298.0 967.5L298.8 966.7L299.6 965.9L300.4 965.1L301.2 964.3L302.0 963.5L302.8 962.8L303.6 962.1L304.4 961.3L305.2 960.7L306.0 960.0L306.8 959.3L307.6 958.7L308.4 958.1L309.2 957.5L310.0 956.9L310.8 956.4L311.6 955.8L312.4 955.3L313.3 954.8L314.1 954.3L314.9 953.8L315.7 953.4L316.5 952.9L317.4 952.5L318.2 952.1L319.0 951.7L319.8 951.3L320.7 951.0L321.5 950.6L322.3 950.3L323.2 949.9L324.0 949.6L324.9 949.3L325.7 949.0L326.5 948.8L327.4 948.5L328.2 948.2L329.1 948.0L329.9 947.8L330.8 947.6L331.6 947.3L332.5 947.1L333.3 947.0L334.2 946.8L335.1 946.6L335.9 946.4L336.8 946.3L337.7 946.2L338.5 946.0L339.4 945.9L340.3 945.8L341.1 945.7L342.0 945.6L342.9 945.5L343.7 945.4L344.6 945.3L345.5 945.2L346.4 945.1L347.3 945.1L348.1 945.0L349.0 945.0L349.9 944.9L350.8 944.9L351.7 944.8L352.6 944.8L353.5 944.8L354.4 944.7L355.3 944.7L356.2 944.7L357.1 944.7L358.0 944.7L358.9 944.7L359.8 944.7L360.7 944.7L361.6 944.7L362.5 944.7L363.4 944.7L364.3 944.7L365.2 944.7L366.2 944.7L367.1 944.8L368.0 944.8L368.9 944.8L369.8 944.8L370.8 944.8L371.7 944.9L372.6 944.9L373.5 944.9L374.5 944.9L375.4 944.9L376.3 945.0L377.3 945.0L378.2 945.0L379.1 945.0L380.1 945.0L381.0 945.1L381.9 945.1L382.9 945.1L383.8 945.1L384.8 945.1L385.7 945.2L386.7 945.2L387.6 945.2L388.6 945.2L389.5 945.2L390.5 945.2L391.5 945.2L392.4 945.3L393.4 945.3L394.3 945.3L395.3 945.3L396.3 945.3L397.2 945.3L398.2 945.3L399.2 945.3L400.1 945.3L401.1 945.3L402.1 945.3L403.1 945.4L404.0 945.4L405.0 945.4L406.0 945.4L407.0 945.4L407.9 945.4L408.9 945.4L409.9 945.4L410.9 945.4L411.9 945.4L412.9 945.4L413.9 945.4L414.9 945.4L415.9 945.4L416.9 945.4L417.9 945.4L418.9 945.4L419.9 945.4L420.9 945.4L421.9 945.3L422.9 945.3L423.9 945.3L424.9 945.3L425.9 945.3L426.9 945.3L427.9 945.3L428.9 945.3L429.9 945.3L431.0 945.3L432.0 945.3L433.0 945.3L434.0 945.3L435.0 945.3L436.1 945.2L437.1 945.2L438.1 945.2L439.1 945.2L440.2 945.2L441.2 945.2L442.2 945.2L443.3 945.2L444.3 945.2L445.3 945.2L446.4 945.2L447.4 945.1L448.5 945.1L449.5 945.1L450.5 945.1L451.6 945.1L452.6 945.1L453.7 945.1L454.7 945.1L455.8 945.1L456.8 945.1L457.9 945.1L459.0 945.0L460.0 945.0L461.1 945.0L462.1 945.0L463.2 945.0L464.2 945.0L465.3 945.0L466.4 945.0L467.4 945.0L468.5 945.0L469.6 945.0L470.7 945.0L471.7 944.9L472.8 944.9L473.9 944.9L475.0 944.9L476.0 944.9L477.1 944.9L478.2 944.9L479.3 944.9L480.4 944.9L481.4 944.9L482.5 944.9L483.6 944.9L484.7 944.9L485.8 944.9L486.9 944.8L488.0 944.8L489.1 944.8L490.2 944.8L491.3 944.8L492.4 944.8L493.5 944.8L494.6 944.8L495.7 944.8L496.8 944.8L497.9 944.8L499.0 944.8L500.1 944.8L501.2 944.8L502.3 944.8L503.4 944.8L504.6 944.8L505.7 944.8L506.8 944.8L507.9 944.8L509.0 944.7L510.1 944.7L511.3 944.7L512.4 944.7L513.5 944.7L514.6 944.7L515.8 944.7L516.9 944.7L518.0 944.7L519.2 944.7L520.3 944.7L521.4 944.7L522.6 944.7L523.7 944.7L524.8 944.7L526.0 944.7L527.1 944.7L528.3 944.7L529.4 944.7L530.6 944.7L531.7 944.7L532.8 944.7L534.0 944.7L535.2 944.7L536.3 944.7L537.5 944.7L538.6 944.7L539.8 944.7L540.9 944.7L542.1 944.7L543.2 944.7L544.4 944.7L545.6 944.7L546.7 944.7L547.9 944.7L549.1 944.7L550.2 944.7L551.4 944.7L552.6 944.7L553.7 944.7L554.9 944.7L556.1 944.7L557.3 944.7L558.4 944.7L559.6 944.7L560.8 944.7L562.0 944.7L563.2 944.7L564.4 944.7L565.5 944.7L566.7 944.7L567.9 944.7L569.1 944.7L570.3 944.7L571.5 944.7L572.7 944.7L573.9 944.7L575.1 944.7L576.3 944.7L577.5 944.7L578.7 944.7L579.9 944.7L581.1 944.7L582.3 944.7L583.5 944.7L584.7 944.7L585.9 944.7L587.1 944.7L588.3 944.7L589.5 944.7L590.7 944.7L592.0 944.7L593.2 944.7L594.4 944.7L595.6 944.7L596.8 944.7L598.0 944.7L599.3 944.7L600.5 944.7L601.7 944.7L602.9 944.7L604.2 944.7L605.4 944.7L606.6 944.7L607.9 944.7L609.1 944.7L610.3 944.7L611.6 944.7L612.8 944.7L614.0 944.7L615.3 944.7L616.5 944.7L617.8 944.7L619.0 944.7L620.2 944.7L621.5 944.7L622.7 944.7L624.0 944.7L625.2 944.7L626.5 944.7L627.7 944.7L629.0 944.7L630.2 944.7L631.5 944.7L632.8 944.7L634.0 944.7L635.3 944.7L636.5 944.7L637.8 944.7L639.1 944.7L640.3 944.7L641.6 944.7L642.9 944.7L644.1 944.7L645.4 944.7L646.7 944.7L647.9 944.7L649.2 944.7L650.5 944.7L651.8 944.7L653.0 944.7L654.3 944.7L655.6 944.7L656.9 944.7L658.1 944.7L659.4 944.7L660.7 944.7L662.0 944.7L663.3 944.7L664.6 944.7L665.9 944.7L667.2 944.7L668.4 944.7L669.7 944.7L671.0 944.7L672.3 944.7L673.6 944.7L674.9 944.7L676.2 944.7L677.5 944.7L678.8 944.7L680.1 944.7L681.4 944.7L682.7 944.7L684.0 944.7L685.4 944.7L686.7 944.7L688.0 944.7L689.3 944.7L690.6 944.7L691.9 944.7L693.2 944.7L694.5 944.7L695.9 944.7L697.2 944.7L698.5 944.7L699.8 944.7L701.1 944.7L702.5 944.7L703.8 944.7L705.1 944.7L706.5 944.7L707.8 944.7L709.1 944.7L710.4 944.7L711.8 944.7L713.1 944.7L714.4 944.7L715.8 944.7L717.1 944.7L718.5 944.7L719.8 944.7L721.1 944.7L722.5 944.7L723.8 944.7L725.2 944.7L726.5 944.7L727.9 944.7L729.2 944.7L730.6 944.7L731.9 944.7L733.3 944.7L734.6 944.7L736.0 944.7L737.3 944.7L738.7 944.7L740.0 944.7L741.4 944.7L742.8 944.7L744.1 944.7L745.5 944.7L746.8 944.7L748.2 944.7L749.6 944.7L750.9 944.7L752.3 944.7L753.7 944.7L755.1 944.7L756.4 944.7L757.8 944.7L759.2 944.7L760.5 944.7L761.9 944.7L763.3 944.7L764.7 944.7L766.1 944.7L767.4 944.7L768.8 944.7L770.2 944.7L771.6 944.7"/>
<path class="c b" d="M165.2 611.4L165.2 611.4L165.3 611.4L165.3 611.5L165.4 611.5L165.4 611.6L165.5 611.8L165.6 612.1L165.7 612.4L165.8 612.7L165.9 613.2L166.0 613.8L166.1 614.4L166.2 615.2L166.4 616.1L166.5 617.1L166.6 618.2L166.8 619.5L166.9 620.8L167.1 622.3L167.3 624.0L167.4 625.8L167.6 627.7L167.8 629.8L167.9 632.0L168.1 634.4L168.3 636.9L168.5 639.5L168.7 642.4L168.9 645.3L169.1 648.5L169.3 651.7L169.6 655.2L169.8 658.7L170.0 662.5L170.2 666.3L170.5 670.3L170.7 674.5L170.9 678.8L171.2 683.3L171.4 687.8L171.7 692.6L171.9 697.4L172.2 702.4L172.4 707.5L172.7 712.7L173.0 718.1L173.3 723.5L173.5 729.1L173.8 734.8L174.1 740.6L174.4 746.4L174.7 752.4L175.0 758.5L175.3 764.6L175.6 770.8L175.9 777.1L176.2 783.5L176.5 789.9L176.8 796.4L177.1 802.9L177.4 809.4L177.7 816.1L178.1 822.7L178.4 829.4L178.7 836.1L179.1 842.8L179.4 849.5L179.7 856.2L180.1 862.9L180.4 869.6L180.8 876.3L181.1 883.0L181.5 889.7L181.8 896.3L182.2 902.9L182.6 909.5L182.9 916.0L183.3 922.4L183.7 928.8L184.1 935.2L184.4 941.4L184.8 947.6L185.2 953.7L185.6 959.8L186.0 965.7L186.4 971.6L186.8 977.3L187.2 983.0L187.6 988.5L188.0 994.0L188.4 999.3L188.8 1004.5L189.2 1009.6L189.6 1014.5L190.0 1019.4L190.4 1024.1L190.9 1028.6L191.3 1033.0L191.7 1037.3L192.2 1041.5L192.6 1045.5L193.0 1049.3L193.5 1053.0L193.9 1056.5L194.3 1059.9L194.8 1063.2L195.2 1066.3L195.7 1069.2L196.1 1072.0L196.6 1074.6L197.1 1077.0L197.5 1079.3L198.0 1081.4L198.4 1083.4L198.9 1085.2L199.4 1086.9L199.8 1088.4L200.3 1089.7L200.8 1090.9L201.3 1091.9L201.8 1092.8L202.2 1093.5L202.7 1094.0L203.2 1094.5L203.7 1094.7L204.2 1094.9L204.7 1094.8L205.2 1094.7L205.7 1094.4L206.2 1093.9L206.7 1093.4L207.2 1092.7L207.7 1091.9L208.2 1090.9L208.8 1089.8L209.3 1088.7L209.8 1087.4L210.3 1086.0L210.8 1084.4L211.4 1082.8L211.9 1081.1L212.4 1079.3L213.0 1077.4L213.5 1075.4L214.0 1073.4L214.6 1071.2L215.1 1069.0L215.7 1066.7L216.2 1064.4L216.8 1062.0L217.3 1059.5L217.9 1057.0L218.4 1054.4L219.0 1051.8L219.5 1049.2L220.1 1046.5L220.7 1043.8L221.2 1041.1L221.8 1038.3L222.4 1035.5L222.9 1032.7L223.5 1029.9L224.1 1027.1L224.7 1024.3L225.3 1021.5L225.8 1018.7L226.4 1016.0L227.0 1013.2L227.6 1010.5L228.2 1007.7L228.8 1005.0L229.4 1002.4L230.0 999.7L230.6 997.1L231.2 994.5L231.8 992.0L232.4 989.5L233.0 987.1L233.6 984.7L234.2 982.4L234.8 980.1L235.5 977.9L236.1 975.7L236.7 973.6L237.3 971.6L237.9 969.6L238.6 967.7L239.2 965.9L239.8 964.1L240.5 962.4L241.1 960.8L241.7 959.2L242.4 957.8L243.0 956.3L243.7 955.0L244.3 953.8L245.0 952.6L245.6 951.5L246.3 950.5L246.9 949.5L247.6 948.7L248.2 947.9L248.9 947.2L249.5 946.6L250.2 946.0L250.9 945.6L251.5 945.2L252.2 944.9L252.9 944.8L253.5 944.7L254.2 944.7L254.9 944.8L255.6 945.1L256.2 945.3L256.9 945.7L257.6 946.1L258.3 946.5L259.0 946.9L259.7 947.4L260.4 947.9L261.1 948.4L261.8 949.0L262.5 949.5L263.1 950.1L263.8 950.7L264.6 951.3L265.3 951.9L266.0 952.5L266.7 953.0L267.4 953.6L268.1 954.2L268.8 954.8L269.5 955.3L270.2 955.9L271.0 956.4L271.7 957.0L272.4 957.5L273.1 958.0L273.9 958.5L274.6 959.0L275.3 959.4L276.0 959.9L276.8 960.3L277.5 960.7L278.2 961.1L279.0 961.5L279.7 961.9L280.5 962.2L281.2 962.5L282.0 962.8L282.7 963.1L283.5 963.4L284.2 963.6L285.0 963.8L285.7 964.0L286.5 964.2L287.2 964.4L288.0 964.5L288.8 964.7L289.5 964.8L290.3 964.9L291.1 964.9L291.8 965.0L292.6 965.0L293.4 965.0L294.1 965.0L294.9 965.0L295.7 965.0L296.5 964.9L297.3 964.8L298.0 964.8L298.8 964.7L299.6 964.5L300.4 964.4L301.2 964.3L302.0 964.1L302.8 963.9L303.6 963.8L304.4 963.6L305.2 963.4L306.0 963.1L306.8 962.9L307.6 962.7L308.4 962.4L309.2 962.2L310.0 961.9L310.8 961.6L311.6 961.3L312.4 961.1L313.3 960.8L314.1 960.5L314.9 960.1L315.7 959.8L316.5 959.5L317.4 959.2L318.2 958.9L319.0 958.5L319.8 958.2L320.7 957.9L321.5 957.5L322.3 957.2L323.2 956.9L324.0 956.5L324.9 956.2L325.7 955.9L326.5 955.5L327.4 955.2L328.2 954.8L329.1 954.5L329.9 954.2L330.8 953.9L331.6 953.5L332.5 953.2L333.3 952.9L334.2 952.6L335.1 952.3L335.9 952.0L336.8 951.7L337.7 951.4L338.5 951.1L339.4 950.8L340.3 950.5L341.1 950.3L342.0 950.0L342.9 949.7L343.7 949.5L344.6 949.2L345.5 949.0L346.4 948.7L347.3 948.5L348.1 948.3L349.0 948.1L349.9 947.9L350.8 947.7L351.7 947.5L352.6 947.3L353.5 947.1L354.4 946.9L355.3 946.8L356.2 946.6L357.1 946.5L358.0 946.3L358.9 946.2L359.8 946.1L360.7 945.9L361.6 945.8L362.5 945.7L363.4 945.6L364.3 945.5L365.2 945.4L366.2 945.3L367.1 945.2L368.0 945.2L368.9 945.1L369.8 945.0L370.8 945.0L371.7 944.9L372.6 944.9L373.5 944.8L374.5 944.8L375.4 944.8L376.3 944.7L377.3 944.7L378.2 944.7L379.1 944.7L380.1 944.7L381.0 944.7L381.9 944.7L382.9 944.7L383.8 944.7L384.8 944.7L385.7 944.7L386.7 944.7L387.6 944.7L388.6 944.7L389.5 944.8L390.5 944.8L391.5 944.8L392.4 944.8L393.4 944.8L394.3 944.8L395.3 944.9L396.3 944.9L397.2 944.9L398.2 944.9L399.2 944.9L400.1 945.0L401.1 945.0L402.1 945.0L403.1 945.0L404.0 945.0L405.0 945.0L406.0 945.1L407.0 945.1L407.9 945.1L408.9 945.1L409.9 945.1L410.9 945.1L411.9 945.1L412.9 945.1L413.9 945.1L414.9 945.2L415.9 945.2L416.9 945.2L417.9 945.2L418.9 945.2L419.9 945.2L420.9 945.2L421.9 945.2L422.9 945.2L423.9 945.2L424.9 945.2L425.9 945.2L426.9 945.2L427.9 945.2L428.9 945.2L429.9 945.2L431.0 945.1L432.0 945.1L433.0 945.1L434.0 945.1L435.0 945.1L436.1 945.1L437.1 945.1L438.1 945.1L439.1 945.1L440.2 945.1L441.2 945.1L442.2 945.1L443.3 945.0L444.3 945.0L445.3 945.0L446.4 945.0L447.4 945.0L448.5 945.0L449.5 945.0L450.5 945.0L451.6 945.0L452.6 944.9L453.7 944.9L454.7 944.9L455.8 944.9L456.8 944.9L457.9 944.9L459.0 944.9L460.0 944.9L461.1 944.9L462.1 944.9L463.2 944.8L464.2 944.8L465.3 944.8L466.4 944.8L467.4 944.8L468.5 944.8L469.6 944.8L470.7 944.8L471.7 944.8L472.8 944.8L473.9 944.8L475.0 944.8L476.0 944.8L477.1 944.7L478.2 944.7L479.3 944.7L480.4 944.7L481.4 944.7L482.5 944.7L483.6 944.7L484.7 944.7L485.8 944.7L486.9 944.7L488.0 944.7L489.1 944.7L490.2 944.7L491.3 944.7L492.4 944.7L493.5 944.7L494.6 944.7L495.7 944.7L496.8 944.7L497.9 944.7L499.0 944.7L500.1 944.7L501.2 944.7L502.3 944.7L503.4 944.7L504.6 944.7L505.7 944.7L506.8 944.7L507.9 944.7L509.0 944.7L510.1 944.7L511.3 944.7L512.4 944.7L513.5 944.7L514.6 944.7L515.8 944.7L516.9 944.7L518.0 944.7L519.2 944.7L520.3 944.7L521.4 944.7L522.6 944.7L523.7 944.7L524.8 944.7L526.0 944.7L527.1 944.7L528.3 944.7L529.4 944.7L530.6 944.7L531.7 944.7L532.8 944.7L534.0 944.7L535.2 944.7L536.3 944.7L537.5 944.7L538.6 944.7L539.8 944.7L540.9 944.7L542.1 944.7L543.2 944.7L544.4 944.7L545.6 944.7L546.7 944.7L547.9 944.7L549.1 944.7L550.2 944.7L551.4 944.7L552.6 944.7L553.7 944.7L554.9 944.7L556.1 944.7L557.3 944.7L558.4 944.7L559.6 944.7L560.8 944.7L562.0 944.7L563.2 944.7L564.4 944.7L565.5 944.7L566.7 944.7L567.9 944.7L569.1 944.7L570.3 944.7L571.5 944.7L572.7 944.7L573.9 944.7L575.1 944.7L576.3 944.7L577.5 944.7L578.7 944.7L579.9 944.7L581.1 944.7L582.3 944.7L583.5 944.7L584.7 944.7L585.9 944.7L587.1 944.7L588.3 944.7L589.5 944.7L590.7 944.7L592.0 944.7L593.2 944.7L594.4 944.7L595.6 944.7L596.8 944.7L598.0 944.7L599.3 944.7L600.5 944.7L601.7 944.7L602.9 944.7L604.2 944.7L605.4 944.7L606.6 944.7L607.9 944.7L609.1 944.7L610.3 944.7L611.6 944.7L612.8 944.7L614.0 944.7L615.3 944.7L616.5 944.7L617.8 944.7L619.0 944.7L620.2 944.7L621.5 944.7L622.7 944.7L624.0 944.7L625.2 944.7L626.5 944.7L627.7 944.7L629.0 944.7L630.2 944.7L631.5 944.7L632.8 944.7L634.0 944.7L635.3 944.7L636.5 944.7L637.8 944.7L639.1 944.7L640.3 944.7L641.6 944.7L642.9 944.7L644.1 944.7L645.4 944.7L646.7 944.7L647.9 944.7L649.2 944.7L650.5 944.7L651.8 944.7L653.0 944.7L654.3 944.7L655.6 944.7L656.9 944.7L658.1 944.7L659.4 944.7L660.7 944.7L662.0 944.7L663.3 944.7L664.6 944.7L665.9 944.7L667.2 944.7L668.4 944.7L669.7 944.7L671.0 944.7L672.3 944.7L673.6 944.7L674.9 944.7L676.2 944.7L677.5 944.7L678.8 944.7L680.1 944.7L681.4 944.7L682.7 944.7L684.0 944.7L685.4 944.7L686.7 944.7L688.0 944.7L689.3 944.7L690.6 944.7L691.9 944.7L693.2 944.7L694.5 944.7L695.9 944.7L697.2 944.7L698.5 944.7L699.8 944.7L701.1 944.7L702.5 944.7L703.8 944.7L705.1 944.7L706.5 944.7L707.8 944.7L709.1 944.7L710.4 944.7L711.8 944.7L713.1 944.7L714.4 944.7L715.8 944.7L717.1 944.7L718.5 944.7L719.8 944.7L721.1 944.7L722.5 944.7L723.8 944.7L725.2 944.7L726.5 944.7L727.9 944.7L729.2 944.7L730.6 944.7L731.9 944.7L733.3 944.7L734.6 944.7L736.0 944.7L737.3 944.7L738.7 944.7L740.0 944.7L741.4 944.7L742.8 944.7L744.1 944.7L745.5 944.7L746.8 944.7L748.2 944.7L749.6 944.7L750.9 944.7L752.3 944.7L753.7 944.7L755.1 944.7L756.4 944.7L757.8 944.7L759.2 944.7L760.5 944.7L761.9 944.7L763.3 944.7L764.7 944.7L766.1 944.7L767.4 944.7L768.8 944.7L770.2 944.7L771.6 944.7"/>
</g>
<text class="tk" x="152.9" y="631.5" text-anchor="end">2.0</text>
<text class="tk" x="152.9" y="798.1" text-anchor="end">1.5</text>
<text class="tk" x="152.9" y="964.8" text-anchor="end">1.0</text>
<text class="tk" x="152.9" y="1132.1" text-anchor="end">0.5</text>
<g role="img" aria-label="χ" transform="translate(51.9 860.7) rotate(-90)"><text transform="translate(-15.77 7.50) scale(1.2343 1)" style='font-family:"DejaVu Sans",sans-serif;font-weight:200' font-size="44.25" stroke="#000" stroke-width="0.7">χ</text></g>
<text class="tk" x="165.2" y="1175" text-anchor="middle">0</text>
<text class="tk" x="286.5" y="1175" text-anchor="middle">4</text>
<text class="tk" x="407.8" y="1175" text-anchor="middle">8</text>
<text class="tk" x="529.0" y="1175" text-anchor="middle">12</text>
<text class="tk" x="650.3" y="1175" text-anchor="middle">16</text>
<text class="tk" x="771.6" y="1175" text-anchor="middle">20</text>
<g role="img" aria-label="λt"><text transform="translate(445.02 1230.70) scale(1.0192 1) skewX(-9)" style='font-family:"DejaVu Sans",sans-serif;font-weight:200' font-size="47.20" stroke="#000" stroke-width="1.2">λ</text><text transform="translate(470.73 1231.43) scale(1.1145 1)" style='font-family:"Liberation Serif",serif' font-style="italic" font-size="58.66" stroke="#fff" stroke-width="0.7">t</text></g>
<text y="673.6"><tspan x="694.49" font-size="48">(</tspan><tspan x="710.65" y="675.3" font-size="51">c</tspan><tspan x="734.52" y="673.6" font-size="48">)</tspan></text>
<g role="img" aria-label="|Φ⟩, γ = 0.2λ"><text transform="translate(461.03 765.48) scale(0.8936 1)" style='font-family:"Liberation Serif",serif' font-size="56.17">|</text><text transform="translate(473.65 763.65) scale(0.8748 1)" style='font-family:"Liberation Serif",serif' font-size="52.69">Φ</text><text transform="translate(507.56 769.88) scale(0.9655 1)" style='font-family:"DejaVu Sans",sans-serif' font-size="60.07" stroke="#fff" stroke-width="1.9">⟩</text><text transform="translate(533.27 764.61) scale(0.6851 1)" style='font-family:"Liberation Serif",serif' font-size="56.85">,</text><text transform="translate(550.67 764.09) scale(1.3597 1)" style='font-family:"Liberation Serif",serif' font-style="italic" font-size="50.08" stroke="#fff" stroke-width="1.1">γ</text><text transform="translate(593.19 766.07) scale(1.5548 1)" style='font-family:"Liberation Serif",serif' font-size="47.20">=</text><text x="645.80" y="763.7" font-size="51.8">0.2</text><text transform="translate(711.88 763.80) scale(1.0332 1) skewX(-9)" style='font-family:"DejaVu Sans",sans-serif;font-weight:200' font-size="47.16" stroke="#000" stroke-width="1.2">λ</text></g>
</g>
<g id="panel-d">
<clipPath id="cp3"><rect x="823.65" y="611.40" width="606.75" height="499.90"/></clipPath>
<path class="t" d="M866.99 1111.30v-6M866.99 611.40v6M910.33 1111.30v-6M910.33 611.40v6M953.67 1111.30v-6M953.67 611.40v6M997.01 1111.30v-6M997.01 611.40v6M1040.35 1111.30v-6M1040.35 611.40v6M1083.69 1111.30v-6M1083.69 611.40v6M1127.03 1111.30v-6M1127.03 611.40v6M1170.36 1111.30v-6M1170.36 611.40v6M1213.70 1111.30v-6M1213.70 611.40v6M1257.04 1111.30v-6M1257.04 611.40v6M1300.38 1111.30v-6M1300.38 611.40v6M1343.72 1111.30v-6M1343.72 611.40v6M1387.06 1111.30v-6M1387.06 611.40v6M823.65 644.73h6M1430.40 644.73h-6M823.65 678.05h6M1430.40 678.05h-6M823.65 711.38h6M1430.40 711.38h-6M823.65 744.71h6M1430.40 744.71h-6M823.65 778.03h6M1430.40 778.03h-6M823.65 811.36h6M1430.40 811.36h-6M823.65 844.69h6M1430.40 844.69h-6M823.65 878.01h6M1430.40 878.01h-6M823.65 911.34h6M1430.40 911.34h-6M823.65 944.67h6M1430.40 944.67h-6M823.65 977.99h6M1430.40 977.99h-6M823.65 1011.32h6M1430.40 1011.32h-6M823.65 1044.65h6M1430.40 1044.65h-6M823.65 1077.97h6M1430.40 1077.97h-6"/>
<rect class="fr" x="823.65" y="611.40" width="606.75" height="499.90"/>
<g clip-path="url(#cp3)">
<path class="c k" d="M823.6 611.4L823.7 611.4L823.7 611.4L823.7 611.4L823.8 611.4L823.9 611.4L823.9 611.5L824.0 611.5L824.1 611.6L824.2 611.6L824.3 611.7L824.4 611.8L824.6 612.0L824.7 612.1L824.8 612.3L824.9 612.5L825.1 612.7L825.2 612.9L825.4 613.2L825.5 613.5L825.7 613.9L825.9 614.2L826.0 614.6L826.2 615.1L826.4 615.5L826.6 616.0L826.8 616.6L827.0 617.1L827.2 617.7L827.4 618.4L827.6 619.1L827.8 619.8L828.0 620.6L828.2 621.4L828.4 622.2L828.7 623.1L828.9 624.1L829.1 625.0L829.4 626.1L829.6 627.1L829.9 628.3L830.1 629.4L830.4 630.6L830.6 631.9L830.9 633.2L831.2 634.5L831.4 635.9L831.7 637.3L832.0 638.8L832.3 640.4L832.5 641.9L832.8 643.6L833.1 645.2L833.4 647.0L833.7 648.7L834.0 650.5L834.3 652.4L834.6 654.3L834.9 656.3L835.2 658.3L835.6 660.3L835.9 662.4L836.2 664.6L836.5 666.8L836.9 669.0L837.2 671.3L837.5 673.6L837.9 676.0L838.2 678.4L838.5 680.9L838.9 683.4L839.2 685.9L839.6 688.5L839.9 691.2L840.3 693.8L840.7 696.6L841.0 699.3L841.4 702.1L841.8 705.0L842.1 707.8L842.5 710.8L842.9 713.7L843.3 716.7L843.7 719.7L844.1 722.8L844.4 725.9L844.8 729.0L845.2 732.2L845.6 735.4L846.0 738.7L846.4 741.9L846.8 745.2L847.3 748.5L847.7 751.9L848.1 755.3L848.5 758.7L848.9 762.1L849.3 765.6L849.8 769.1L850.2 772.6L850.6 776.1L851.1 779.7L851.5 783.3L851.9 786.9L852.4 790.5L852.8 794.1L853.3 797.8L853.7 801.5L854.2 805.1L854.6 808.8L855.1 812.6L855.5 816.3L856.0 820.0L856.4 823.8L856.9 827.5L857.4 831.3L857.8 835.1L858.3 838.8L858.8 842.6L859.3 846.4L859.8 850.2L860.2 854.0L860.7 857.8L861.2 861.6L861.7 865.4L862.2 869.2L862.7 872.9L863.2 876.7L863.7 880.5L864.2 884.3L864.7 888.0L865.2 891.8L865.7 895.5L866.2 899.3L866.7 903.0L867.2 906.7L867.8 910.4L868.3 914.1L868.8 917.8L869.3 921.4L869.9 925.0L870.4 928.7L870.9 932.3L871.4 935.8L872.0 939.4L872.5 942.9L873.1 946.4L873.6 949.9L874.1 953.4L874.7 956.8L875.2 960.2L875.8 963.6L876.3 967.0L876.9 970.3L877.5 973.6L878.0 976.8L878.6 980.1L879.1 983.3L879.7 986.4L880.3 989.6L880.9 992.7L881.4 995.7L882.0 998.7L882.6 1001.7L883.2 1004.7L883.7 1007.6L884.3 1010.4L884.9 1013.3L885.5 1016.1L886.1 1018.8L886.7 1021.5L887.3 1024.2L887.9 1026.8L888.5 1029.4L889.1 1031.9L889.7 1034.4L890.3 1036.8L890.9 1039.2L891.5 1041.5L892.1 1043.8L892.7 1046.1L893.3 1048.3L894.0 1050.5L894.6 1052.6L895.2 1054.6L895.8 1056.6L896.4 1058.6L897.1 1060.5L897.7 1062.4L898.3 1064.2L899.0 1065.9L899.6 1067.6L900.2 1069.3L900.9 1070.9L901.5 1072.5L902.2 1074.0L902.8 1075.4L903.4 1076.8L904.1 1078.1L904.7 1079.4L905.4 1080.7L906.1 1081.9L906.7 1083.0L907.4 1084.1L908.0 1085.1L908.7 1086.1L909.4 1087.0L910.0 1087.9L910.7 1088.7L911.4 1089.5L912.0 1090.2L912.7 1090.8L913.4 1091.5L914.1 1092.0L914.7 1092.5L915.4 1093.0L916.1 1093.4L916.8 1093.8L917.5 1094.1L918.2 1094.3L918.9 1094.5L919.6 1094.7L920.3 1094.8L921.0 1094.9L921.7 1094.9L922.4 1094.8L923.1 1094.7L923.8 1094.6L924.5 1094.4L925.2 1094.2L925.9 1093.9L926.6 1093.6L927.3 1093.3L928.0 1092.9L928.7 1092.4L929.5 1091.9L930.2 1091.4L930.9 1090.8L931.6 1090.2L932.4 1089.6L933.1 1088.9L933.8 1088.1L934.6 1087.4L935.3 1086.6L936.0 1085.7L936.8 1084.8L937.5 1083.9L938.2 1083.0L939.0 1082.0L939.7 1080.9L940.5 1079.9L941.2 1078.8L942.0 1077.7L942.7 1076.5L943.5 1075.4L944.2 1074.2L945.0 1072.9L945.8 1071.7L946.5 1070.4L947.3 1069.1L948.0 1067.7L948.8 1066.3L949.6 1065.0L950.4 1063.5L951.1 1062.1L951.9 1060.7L952.7 1059.2L953.4 1057.7L954.2 1056.2L955.0 1054.7L955.8 1053.1L956.6 1051.6L957.4 1050.0L958.1 1048.4L958.9 1046.8L959.7 1045.2L960.5 1043.6L961.3 1041.9L962.1 1040.3L962.9 1038.6L963.7 1037.0L964.5 1035.3L965.3 1033.7L966.1 1032.0L966.9 1030.3L967.7 1028.6L968.5 1026.9L969.4 1025.2L970.2 1023.6L971.0 1021.9L971.8 1020.2L972.6 1018.5L973.4 1016.8L974.3 1015.1L975.1 1013.5L975.9 1011.8L976.7 1010.1L977.6 1008.5L978.4 1006.8L979.2 1005.2L980.1 1003.5L980.9 1001.9L981.7 1000.3L982.6 998.7L983.4 997.1L984.2 995.5L985.1 994.0L985.9 992.4L986.8 990.9L987.6 989.4L988.5 987.9L989.3 986.4L990.2 984.9L991.0 983.5L991.9 982.0L992.8 980.6L993.6 979.2L994.5 977.8L995.3 976.5L996.2 975.2L997.1 973.8L997.9 972.6L998.8 971.3L999.7 970.1L1000.5 968.8L1001.4 967.6L1002.3 966.5L1003.2 965.3L1004.1 964.2L1004.9 963.1L1005.8 962.1L1006.7 961.0L1007.6 960.0L1008.5 959.1L1009.4 958.1L1010.3 957.2L1011.1 956.3L1012.0 955.4L1012.9 954.6L1013.8 953.8L1014.7 953.0L1015.6 952.3L1016.5 951.6L1017.4 950.9L1018.3 950.2L1019.2 949.6L1020.2 949.0L1021.1 948.5L1022.0 948.0L1022.9 947.5L1023.8 947.1L1024.7 946.7L1025.6 946.3L1026.6 945.9L1027.5 945.6L1028.4 945.4L1029.3 945.1L1030.2 945.0L1031.2 944.8L1032.1 944.7L1033.0 944.7L1034.0 944.7L1034.9 944.8L1035.8 944.9L1036.8 945.0L1037.7 945.2L1038.6 945.4L1039.6 945.7L1040.5 945.9L1041.5 946.2L1042.4 946.5L1043.4 946.9L1044.3 947.2L1045.3 947.6L1046.2 948.0L1047.2 948.4L1048.1 948.8L1049.1 949.2L1050.0 949.6L1051.0 950.1L1052.0 950.5L1052.9 951.0L1053.9 951.4L1054.8 951.9L1055.8 952.4L1056.8 952.9L1057.7 953.4L1058.7 953.9L1059.7 954.4L1060.7 954.9L1061.6 955.4L1062.6 955.9L1063.6 956.4L1064.6 956.9L1065.6 957.4L1066.5 957.9L1067.5 958.4L1068.5 958.9L1069.5 959.4L1070.5 959.9L1071.5 960.4L1072.5 960.9L1073.5 961.4L1074.5 961.9L1075.5 962.4L1076.5 962.9L1077.5 963.3L1078.5 963.8L1079.5 964.3L1080.5 964.7L1081.5 965.2L1082.5 965.6L1083.5 966.1L1084.5 966.5L1085.5 966.9L1086.5 967.4L1087.5 967.8L1088.5 968.2L1089.6 968.6L1090.6 969.0L1091.6 969.4L1092.6 969.7L1093.6 970.1L1094.7 970.5L1095.7 970.8L1096.7 971.2L1097.7 971.5L1098.8 971.8L1099.8 972.2L1100.8 972.5L1101.9 972.8L1102.9 973.1L1104.0 973.4L1105.0 973.7L1106.0 973.9L1107.1 974.2L1108.1 974.4L1109.2 974.7L1110.2 974.9L1111.3 975.1L1112.3 975.4L1113.4 975.6L1114.4 975.8L1115.5 975.9L1116.5 976.1L1117.6 976.3L1118.6 976.5L1119.7 976.6L1120.7 976.8L1121.8 976.9L1122.9 977.0L1123.9 977.1L1125.0 977.2L1126.1 977.3L1127.1 977.4L1128.2 977.5L1129.3 977.6L1130.4 977.7L1131.4 977.7L1132.5 977.8L1133.6 977.8L1134.7 977.8L1135.7 977.9L1136.8 977.9L1137.9 977.9L1139.0 977.9L1140.1 977.9L1141.2 977.8L1142.3 977.8L1143.3 977.8L1144.4 977.7L1145.5 977.7L1146.6 977.6L1147.7 977.6L1148.8 977.5L1149.9 977.4L1151.0 977.3L1152.1 977.2L1153.2 977.1L1154.3 977.0L1155.4 976.9L1156.5 976.8L1157.6 976.6L1158.7 976.5L1159.9 976.4L1161.0 976.2L1162.1 976.1L1163.2 975.9L1164.3 975.7L1165.4 975.6L1166.5 975.4L1167.7 975.2L1168.8 975.0L1169.9 974.8L1171.0 974.6L1172.2 974.4L1173.3 974.2L1174.4 974.0L1175.6 973.8L1176.7 973.5L1177.8 973.3L1178.9 973.1L1180.1 972.8L1181.2 972.6L1182.4 972.3L1183.5 972.1L1184.6 971.8L1185.8 971.6L1186.9 971.3L1188.1 971.0L1189.2 970.8L1190.4 970.5L1191.5 970.2L1192.7 969.9L1193.8 969.7L1195.0 969.4L1196.1 969.1L1197.3 968.8L1198.4 968.5L1199.6 968.2L1200.8 967.9L1201.9 967.6L1203.1 967.3L1204.2 967.0L1205.4 966.7L1206.6 966.4L1207.7 966.1L1208.9 965.8L1210.1 965.5L1211.2 965.2L1212.4 964.9L1213.6 964.5L1214.8 964.2L1215.9 963.9L1217.1 963.6L1218.3 963.3L1219.5 963.0L1220.7 962.7L1221.9 962.4L1223.0 962.1L1224.2 961.7L1225.4 961.4L1226.6 961.1L1227.8 960.8L1229.0 960.5L1230.2 960.2L1231.4 959.9L1232.6 959.6L1233.8 959.3L1235.0 959.0L1236.2 958.7L1237.4 958.4L1238.6 958.1L1239.8 957.8L1241.0 957.5L1242.2 957.2L1243.4 956.9L1244.6 956.6L1245.8 956.3L1247.0 956.1L1248.2 955.8L1249.4 955.5L1250.7 955.2L1251.9 955.0L1253.1 954.7L1254.3 954.4L1255.5 954.2L1256.7 953.9L1258.0 953.6L1259.2 953.4L1260.4 953.1L1261.6 952.9L1262.9 952.6L1264.1 952.4L1265.3 952.2L1266.6 951.9L1267.8 951.7L1269.0 951.5L1270.3 951.2L1271.5 951.0L1272.7 950.8L1274.0 950.6L1275.2 950.4L1276.5 950.2L1277.7 950.0L1279.0 949.8L1280.2 949.6L1281.4 949.4L1282.7 949.2L1283.9 949.0L1285.2 948.8L1286.4 948.6L1287.7 948.5L1289.0 948.3L1290.2 948.1L1291.5 948.0L1292.7 947.8L1294.0 947.7L1295.3 947.5L1296.5 947.4L1297.8 947.2L1299.0 947.1L1300.3 947.0L1301.6 946.8L1302.8 946.7L1304.1 946.6L1305.4 946.5L1306.7 946.4L1307.9 946.3L1309.2 946.2L1310.5 946.1L1311.8 946.0L1313.0 945.9L1314.3 945.8L1315.6 945.7L1316.9 945.6L1318.2 945.5L1319.5 945.5L1320.7 945.4L1322.0 945.3L1323.3 945.3L1324.6 945.2L1325.9 945.1L1327.2 945.1L1328.5 945.0L1329.8 945.0L1331.1 944.9L1332.4 944.9L1333.7 944.9L1335.0 944.8L1336.3 944.8L1337.6 944.8L1338.9 944.7L1340.2 944.7L1341.5 944.7L1342.8 944.7L1344.1 944.7L1345.4 944.7L1346.7 944.7L1348.0 944.7L1349.4 944.7L1350.7 944.7L1352.0 944.7L1353.3 944.7L1354.6 944.7L1355.9 944.7L1357.3 944.7L1358.6 944.8L1359.9 944.8L1361.2 944.8L1362.6 944.8L1363.9 944.9L1365.2 944.9L1366.5 944.9L1367.9 944.9L1369.2 945.0L1370.5 945.0L1371.9 945.0L1373.2 945.0L1374.5 945.1L1375.9 945.1L1377.2 945.1L1378.6 945.2L1379.9 945.2L1381.2 945.2L1382.6 945.3L1383.9 945.3L1385.3 945.3L1386.6 945.4L1388.0 945.4L1389.3 945.4L1390.7 945.4L1392.0 945.5L1393.4 945.5L1394.7 945.5L1396.1 945.6L1397.5 945.6L1398.8 945.6L1400.2 945.6L1401.5 945.7L1402.9 945.7L1404.3 945.7L1405.6 945.8L1407.0 945.8L1408.4 945.8L1409.7 945.8L1411.1 945.8L1412.5 945.9L1413.8 945.9L1415.2 945.9L1416.6 945.9L1418.0 946.0L1419.3 946.0L1420.7 946.0L1422.1 946.0L1423.5 946.0L1424.9 946.0L1426.2 946.1L1427.6 946.1L1429.0 946.1L1430.4 946.1"/>
<path class="c r" d="M823.6 611.4L823.7 611.4L823.7 611.4L823.7 611.4L823.8 611.5L823.9 611.6L823.9 611.7L824.0 611.8L824.1 612.0L824.2 612.3L824.3 612.6L824.4 612.9L824.6 613.4L824.7 613.9L824.8 614.5L824.9 615.1L825.1 615.9L825.2 616.7L825.4 617.6L825.5 618.6L825.7 619.7L825.9 620.9L826.0 622.3L826.2 623.7L826.4 625.2L826.6 626.8L826.8 628.5L827.0 630.4L827.2 632.3L827.4 634.4L827.6 636.6L827.8 638.9L828.0 641.3L828.2 643.9L828.4 646.5L828.7 649.3L828.9 652.2L829.1 655.2L829.4 658.3L829.6 661.6L829.9 664.9L830.1 668.4L830.4 672.0L830.6 675.7L830.9 679.5L831.2 683.5L831.4 687.5L831.7 691.7L832.0 696.0L832.3 700.3L832.5 704.8L832.8 709.4L833.1 714.1L833.4 718.9L833.7 723.8L834.0 728.7L834.3 733.8L834.6 738.9L834.9 744.2L835.2 749.5L835.6 754.9L835.9 760.4L836.2 765.9L836.5 771.6L836.9 777.2L837.2 783.0L837.5 788.8L837.9 794.7L838.2 800.6L838.5 806.5L838.9 812.5L839.2 818.6L839.6 824.7L839.9 830.8L840.3 836.9L840.7 843.1L841.0 849.2L841.4 855.4L841.8 861.6L842.1 867.8L842.5 874.1L842.9 880.3L843.3 886.5L843.7 892.6L844.1 898.8L844.4 904.9L844.8 911.1L845.2 917.1L845.6 923.2L846.0 929.2L846.4 935.2L846.8 941.1L847.3 946.9L847.7 952.7L848.1 958.5L848.5 964.1L848.9 969.7L849.3 975.3L849.8 980.7L850.2 986.1L850.6 991.3L851.1 996.5L851.5 1001.6L851.9 1006.6L852.4 1011.4L852.8 1016.2L853.3 1020.9L853.7 1025.4L854.2 1029.8L854.6 1034.1L855.1 1038.3L855.5 1042.3L856.0 1046.2L856.4 1050.0L856.9 1053.7L857.4 1057.1L857.8 1060.5L858.3 1063.7L858.8 1066.8L859.3 1069.7L859.8 1072.4L860.2 1075.0L860.7 1077.5L861.2 1079.8L861.7 1081.9L862.2 1083.9L862.7 1085.7L863.2 1087.3L863.7 1088.8L864.2 1090.1L864.7 1091.3L865.2 1092.3L865.7 1093.1L866.2 1093.8L866.7 1094.3L867.2 1094.7L867.8 1094.8L868.3 1094.9L868.8 1094.7L869.3 1094.4L869.9 1094.0L870.4 1093.3L870.9 1092.6L871.4 1091.7L872.0 1090.6L872.5 1089.4L873.1 1088.0L873.6 1086.5L874.1 1084.9L874.7 1083.1L875.2 1081.2L875.8 1079.2L876.3 1077.1L876.9 1074.8L877.5 1072.4L878.0 1069.9L878.6 1067.3L879.1 1064.6L879.7 1061.8L880.3 1058.9L880.9 1055.9L881.4 1052.8L882.0 1049.7L882.6 1046.5L883.2 1043.2L883.7 1039.9L884.3 1036.5L884.9 1033.1L885.5 1029.6L886.1 1026.1L886.7 1022.6L887.3 1019.0L887.9 1015.4L888.5 1011.9L889.1 1008.3L889.7 1004.8L890.3 1001.2L890.9 997.7L891.5 994.3L892.1 990.8L892.7 987.4L893.3 984.1L894.0 980.9L894.6 977.7L895.2 974.6L895.8 971.6L896.4 968.6L897.1 965.8L897.7 963.2L898.3 960.6L899.0 958.2L899.6 955.9L900.2 953.8L900.9 951.9L901.5 950.1L902.2 948.6L902.8 947.3L903.4 946.2L904.1 945.3L904.7 944.8L905.4 944.7L906.1 945.0L906.7 945.6L907.4 946.5L908.0 947.7L908.7 949.0L909.4 950.5L910.0 952.2L910.7 954.0L911.4 956.0L912.0 958.1L912.7 960.2L913.4 962.5L914.1 964.9L914.7 967.3L915.4 969.8L916.1 972.3L916.8 974.9L917.5 977.6L918.2 980.2L918.9 982.9L919.6 985.6L920.3 988.3L921.0 991.0L921.7 993.7L922.4 996.5L923.1 999.2L923.8 1001.8L924.5 1004.5L925.2 1007.1L925.9 1009.7L926.6 1012.3L927.3 1014.8L928.0 1017.3L928.7 1019.8L929.5 1022.2L930.2 1024.6L930.9 1026.9L931.6 1029.1L932.4 1031.4L933.1 1033.5L933.8 1035.6L934.6 1037.6L935.3 1039.6L936.0 1041.6L936.8 1043.4L937.5 1045.2L938.2 1047.0L939.0 1048.6L939.7 1050.3L940.5 1051.8L941.2 1053.3L942.0 1054.7L942.7 1056.1L943.5 1057.4L944.2 1058.7L945.0 1059.9L945.8 1061.0L946.5 1062.1L947.3 1063.1L948.0 1064.1L948.8 1065.0L949.6 1065.9L950.4 1066.7L951.1 1067.5L951.9 1068.2L952.7 1068.8L953.4 1069.5L954.2 1070.0L955.0 1070.5L955.8 1071.0L956.6 1071.4L957.4 1071.8L958.1 1072.2L958.9 1072.5L959.7 1072.7L960.5 1072.9L961.3 1073.1L962.1 1073.2L962.9 1073.3L963.7 1073.4L964.5 1073.4L965.3 1073.3L966.1 1073.3L966.9 1073.1L967.7 1073.0L968.5 1072.8L969.4 1072.6L970.2 1072.3L971.0 1072.0L971.8 1071.6L972.6 1071.2L973.4 1070.8L974.3 1070.3L975.1 1069.8L975.9 1069.2L976.7 1068.6L977.6 1067.9L978.4 1067.2L979.2 1066.5L980.1 1065.7L980.9 1064.8L981.7 1064.0L982.6 1063.0L983.4 1062.0L984.2 1061.0L985.1 1059.9L985.9 1058.8L986.8 1057.6L987.6 1056.4L988.5 1055.1L989.3 1053.7L990.2 1052.4L991.0 1050.9L991.9 1049.4L992.8 1047.9L993.6 1046.3L994.5 1044.7L995.3 1043.0L996.2 1041.3L997.1 1039.5L997.9 1037.7L998.8 1035.9L999.7 1034.0L1000.5 1032.0L1001.4 1030.1L1002.3 1028.1L1003.2 1026.0L1004.1 1023.9L1004.9 1021.8L1005.8 1019.7L1006.7 1017.5L1007.6 1015.3L1008.5 1013.1L1009.4 1010.9L1010.3 1008.6L1011.1 1006.4L1012.0 1004.1L1012.9 1001.8L1013.8 999.5L1014.7 997.2L1015.6 995.0L1016.5 992.7L1017.4 990.4L1018.3 988.2L1019.2 985.9L1020.2 983.7L1021.1 981.5L1022.0 979.3L1022.9 977.2L1023.8 975.1L1024.7 973.0L1025.6 971.0L1026.6 969.0L1027.5 967.0L1028.4 965.2L1029.3 963.3L1030.2 961.6L1031.2 959.9L1032.1 958.2L1033.0 956.7L1034.0 955.2L1034.9 953.8L1035.8 952.4L1036.8 951.2L1037.7 950.0L1038.6 949.0L1039.6 948.0L1040.5 947.2L1041.5 946.4L1042.4 945.8L1043.4 945.3L1044.3 944.9L1045.3 944.7L1046.2 944.7L1047.2 944.8L1048.1 945.2L1049.1 945.6L1050.0 946.1L1051.0 946.7L1052.0 947.4L1052.9 948.2L1053.9 949.0L1054.8 949.9L1055.8 950.9L1056.8 951.9L1057.7 952.9L1058.7 954.0L1059.7 955.1L1060.7 956.2L1061.6 957.3L1062.6 958.4L1063.6 959.6L1064.6 960.8L1065.6 961.9L1066.5 963.1L1067.5 964.3L1068.5 965.4L1069.5 966.6L1070.5 967.7L1071.5 968.9L1072.5 970.0L1073.5 971.1L1074.5 972.2L1075.5 973.2L1076.5 974.3L1077.5 975.3L1078.5 976.2L1079.5 977.2L1080.5 978.1L1081.5 979.0L1082.5 979.9L1083.5 980.7L1084.5 981.5L1085.5 982.3L1086.5 983.0L1087.5 983.7L1088.5 984.3L1089.6 984.9L1090.6 985.5L1091.6 986.0L1092.6 986.5L1093.6 987.0L1094.7 987.4L1095.7 987.8L1096.7 988.1L1097.7 988.4L1098.8 988.7L1099.8 988.9L1100.8 989.1L1101.9 989.2L1102.9 989.3L1104.0 989.3L1105.0 989.4L1106.0 989.3L1107.1 989.3L1108.1 989.2L1109.2 989.0L1110.2 988.9L1111.3 988.6L1112.3 988.4L1113.4 988.1L1114.4 987.8L1115.5 987.4L1116.5 987.0L1117.6 986.6L1118.6 986.2L1119.7 985.7L1120.7 985.2L1121.8 984.6L1122.9 984.0L1123.9 983.4L1125.0 982.8L1126.1 982.1L1127.1 981.4L1128.2 980.7L1129.3 980.0L1130.4 979.3L1131.4 978.5L1132.5 977.7L1133.6 976.9L1134.7 976.1L1135.7 975.2L1136.8 974.4L1137.9 973.5L1139.0 972.6L1140.1 971.7L1141.2 970.8L1142.3 969.9L1143.3 969.0L1144.4 968.1L1145.5 967.2L1146.6 966.3L1147.7 965.3L1148.8 964.4L1149.9 963.5L1151.0 962.6L1152.1 961.7L1153.2 960.8L1154.3 959.9L1155.4 959.1L1156.5 958.2L1157.6 957.4L1158.7 956.5L1159.9 955.7L1161.0 954.9L1162.1 954.1L1163.2 953.4L1164.3 952.7L1165.4 952.0L1166.5 951.3L1167.7 950.6L1168.8 950.0L1169.9 949.4L1171.0 948.8L1172.2 948.3L1173.3 947.8L1174.4 947.3L1175.6 946.9L1176.7 946.5L1177.8 946.1L1178.9 945.8L1180.1 945.5L1181.2 945.2L1182.4 945.0L1183.5 944.9L1184.6 944.8L1185.8 944.7L1186.9 944.7L1188.1 944.7L1189.2 944.8L1190.4 945.0L1191.5 945.1L1192.7 945.3L1193.8 945.6L1195.0 945.8L1196.1 946.1L1197.3 946.4L1198.4 946.7L1199.6 947.0L1200.8 947.4L1201.9 947.7L1203.1 948.0L1204.2 948.4L1205.4 948.8L1206.6 949.1L1207.7 949.5L1208.9 949.9L1210.1 950.2L1211.2 950.6L1212.4 951.0L1213.6 951.3L1214.8 951.7L1215.9 952.0L1217.1 952.4L1218.3 952.7L1219.5 953.0L1220.7 953.4L1221.9 953.7L1223.0 953.9L1224.2 954.2L1225.4 954.5L1226.6 954.7L1227.8 955.0L1229.0 955.2L1230.2 955.4L1231.4 955.6L1232.6 955.8L1233.8 956.0L1235.0 956.1L1236.2 956.2L1237.4 956.4L1238.6 956.5L1239.8 956.5L1241.0 956.6L1242.2 956.7L1243.4 956.7L1244.6 956.7L1245.8 956.7L1247.0 956.7L1248.2 956.7L1249.4 956.6L1250.7 956.6L1251.9 956.5L1253.1 956.4L1254.3 956.3L1255.5 956.2L1256.7 956.1L1258.0 955.9L1259.2 955.8L1260.4 955.6L1261.6 955.4L1262.9 955.3L1264.1 955.1L1265.3 954.8L1266.6 954.6L1267.8 954.4L1269.0 954.2L1270.3 953.9L1271.5 953.7L1272.7 953.4L1274.0 953.2L1275.2 952.9L1276.5 952.6L1277.7 952.3L1279.0 952.1L1280.2 951.8L1281.4 951.5L1282.7 951.2L1283.9 950.9L1285.2 950.6L1286.4 950.3L1287.7 950.1L1289.0 949.8L1290.2 949.5L1291.5 949.2L1292.7 949.0L1294.0 948.7L1295.3 948.4L1296.5 948.2L1297.8 947.9L1299.0 947.7L1300.3 947.4L1301.6 947.2L1302.8 947.0L1304.1 946.8L1305.4 946.5L1306.7 946.3L1307.9 946.2L1309.2 946.0L1310.5 945.8L1311.8 945.6L1313.0 945.5L1314.3 945.4L1315.6 945.2L1316.9 945.1L1318.2 945.0L1319.5 944.9L1320.7 944.9L1322.0 944.8L1323.3 944.7L1324.6 944.7L1325.9 944.7L1327.2 944.7L1328.5 944.7L1329.8 944.7L1331.1 944.7L1332.4 944.8L1333.7 944.8L1335.0 944.9L1336.3 945.0L1337.6 945.0L1338.9 945.1L1340.2 945.2L1341.5 945.3L1342.8 945.4L1344.1 945.5L1345.4 945.6L1346.7 945.7L1348.0 945.8L1349.4 945.9L1350.7 946.0L1352.0 946.1L1353.3 946.2L1354.6 946.3L1355.9 946.4L1357.3 946.5L1358.6 946.6L1359.9 946.7L1361.2 946.8L1362.6 946.9L1363.9 947.0L1365.2 947.0L1366.5 947.1L1367.9 947.2L1369.2 947.2L1370.5 947.3L1371.9 947.4L1373.2 947.4L1374.5 947.5L1375.9 947.5L1377.2 947.5L1378.6 947.6L1379.9 947.6L1381.2 947.6L1382.6 947.6L1383.9 947.6L1385.3 947.7L1386.6 947.7L1388.0 947.6L1389.3 947.6L1390.7 947.6L1392.0 947.6L1393.4 947.6L1394.7 947.6L1396.1 947.5L1397.5 947.5L1398.8 947.4L1400.2 947.4L1401.5 947.3L1402.9 947.3L1404.3 947.2L1405.6 947.2L1407.0 947.1L1408.4 947.1L1409.7 947.0L1411.1 946.9L1412.5 946.9L1413.8 946.8L1415.2 946.7L1416.6 946.6L1418.0 946.6L1419.3 946.5L1420.7 946.4L1422.1 946.3L1423.5 946.2L1424.9 946.2L1426.2 946.1L1427.6 946.0L1429.0 945.9L1430.4 945.9"/>
<path class="c b" d="M823.6 611.4L823.7 611.4L823.7 611.4L823.7 611.5L823.8 611.6L823.9 611.7L823.9 611.9L824.0 612.2L824.1 612.6L824.2 613.0L824.3 613.6L824.4 614.3L824.6 615.1L824.7 616.0L824.8 617.1L824.9 618.3L825.1 619.6L825.2 621.1L825.4 622.8L825.5 624.6L825.7 626.6L825.9 628.7L826.0 631.1L826.2 633.6L826.4 636.3L826.6 639.1L826.8 642.2L827.0 645.4L827.2 648.8L827.4 652.4L827.6 656.2L827.8 660.2L828.0 664.3L828.2 668.7L828.4 673.2L828.7 677.9L828.9 682.8L829.1 687.8L829.4 693.1L829.6 698.5L829.9 704.0L830.1 709.8L830.4 715.7L830.6 721.7L830.9 727.9L831.2 734.3L831.4 740.8L831.7 747.4L832.0 754.1L832.3 761.0L832.5 768.0L832.8 775.1L833.1 782.3L833.4 789.6L833.7 797.0L834.0 804.5L834.3 812.1L834.6 819.7L834.9 827.3L835.2 835.1L835.6 842.8L835.9 850.6L836.2 858.5L836.5 866.3L836.9 874.1L837.2 882.0L837.5 889.8L837.9 897.6L838.2 905.4L838.5 913.1L838.9 920.8L839.2 928.4L839.6 936.0L839.9 943.5L840.3 950.9L840.7 958.2L841.0 965.4L841.4 972.5L841.8 979.5L842.1 986.3L842.5 993.0L842.9 999.5L843.3 1005.9L843.7 1012.1L844.1 1018.2L844.4 1024.1L844.8 1029.7L845.2 1035.2L845.6 1040.5L846.0 1045.5L846.4 1050.4L846.8 1055.0L847.3 1059.4L847.7 1063.6L848.1 1067.5L848.5 1071.2L848.9 1074.6L849.3 1077.7L849.8 1080.6L850.2 1083.3L850.6 1085.6L851.1 1087.8L851.5 1089.6L851.9 1091.2L852.4 1092.4L852.8 1093.5L853.3 1094.2L853.7 1094.7L854.2 1094.9L854.6 1094.8L855.1 1094.4L855.5 1093.8L856.0 1092.9L856.4 1091.8L856.9 1090.4L857.4 1088.7L857.8 1086.9L858.3 1084.7L858.8 1082.3L859.3 1079.7L859.8 1076.9L860.2 1073.9L860.7 1070.7L861.2 1067.2L861.7 1063.6L862.2 1059.8L862.7 1055.9L863.2 1051.8L863.7 1047.6L864.2 1043.2L864.7 1038.8L865.2 1034.2L865.7 1029.6L866.2 1024.9L866.7 1020.1L867.2 1015.3L867.8 1010.5L868.3 1005.7L868.8 1000.9L869.3 996.2L869.9 991.5L870.4 986.9L870.9 982.4L871.4 978.0L872.0 973.7L872.5 969.6L873.1 965.8L873.6 962.1L874.1 958.7L874.7 955.5L875.2 952.7L875.8 950.2L876.3 948.1L876.9 946.4L877.5 945.2L878.0 944.7L878.6 945.0L879.1 946.0L879.7 947.6L880.3 949.5L880.9 951.9L881.4 954.5L882.0 957.5L882.6 960.7L883.2 964.1L883.7 967.7L884.3 971.4L884.9 975.3L885.5 979.4L886.1 983.5L886.7 987.6L887.3 991.9L887.9 996.1L888.5 1000.4L889.1 1004.7L889.7 1008.9L890.3 1013.2L890.9 1017.4L891.5 1021.5L892.1 1025.5L892.7 1029.5L893.3 1033.4L894.0 1037.2L894.6 1040.9L895.2 1044.5L895.8 1047.9L896.4 1051.3L897.1 1054.5L897.7 1057.5L898.3 1060.5L899.0 1063.3L899.6 1065.9L900.2 1068.4L900.9 1070.8L901.5 1073.0L902.2 1075.1L902.8 1077.1L903.4 1078.9L904.1 1080.5L904.7 1082.1L905.4 1083.5L906.1 1084.8L906.7 1086.0L907.4 1087.1L908.0 1088.1L908.7 1089.0L909.4 1089.7L910.0 1090.4L910.7 1091.1L911.4 1091.6L912.0 1092.1L912.7 1092.5L913.4 1092.8L914.1 1093.1L914.7 1093.4L915.4 1093.6L916.1 1093.8L916.8 1093.9L917.5 1094.0L918.2 1094.1L918.9 1094.2L919.6 1094.3L920.3 1094.3L921.0 1094.3L921.7 1094.3L922.4 1094.3L923.1 1094.3L923.8 1094.2L924.5 1094.2L925.2 1094.1L925.9 1094.0L926.6 1093.8L927.3 1093.7L928.0 1093.5L928.7 1093.3L929.5 1093.0L930.2 1092.6L930.9 1092.3L931.6 1091.8L932.4 1091.3L933.1 1090.7L933.8 1090.1L934.6 1089.3L935.3 1088.5L936.0 1087.6L936.8 1086.6L937.5 1085.4L938.2 1084.2L939.0 1082.8L939.7 1081.3L940.5 1079.7L941.2 1078.0L942.0 1076.1L942.7 1074.1L943.5 1072.0L944.2 1069.7L945.0 1067.3L945.8 1064.8L946.5 1062.1L947.3 1059.3L948.0 1056.4L948.8 1053.3L949.6 1050.1L950.4 1046.8L951.1 1043.4L951.9 1039.9L952.7 1036.3L953.4 1032.6L954.2 1028.8L955.0 1024.9L955.8 1021.0L956.6 1017.0L957.4 1013.0L958.1 1009.0L958.9 1004.9L959.7 1000.9L960.5 996.8L961.3 992.8L962.1 988.9L962.9 984.9L963.7 981.1L964.5 977.3L965.3 973.7L966.1 970.2L966.9 966.8L967.7 963.5L968.5 960.5L969.4 957.6L970.2 955.0L971.0 952.6L971.8 950.4L972.6 948.6L973.4 947.0L974.3 945.8L975.1 945.0L975.9 944.7L976.7 945.0L977.6 945.8L978.4 946.9L979.2 948.4L980.1 950.1L980.9 952.0L981.7 954.1L982.6 956.4L983.4 958.8L984.2 961.3L985.1 963.9L985.9 966.7L986.8 969.4L987.6 972.2L988.5 975.1L989.3 977.9L990.2 980.8L991.0 983.7L991.9 986.5L992.8 989.3L993.6 992.1L994.5 994.8L995.3 997.4L996.2 1000.0L997.1 1002.6L997.9 1005.0L998.8 1007.4L999.7 1009.7L1000.5 1011.9L1001.4 1014.0L1002.3 1016.0L1003.2 1017.9L1004.1 1019.8L1004.9 1021.5L1005.8 1023.1L1006.7 1024.6L1007.6 1026.0L1008.5 1027.3L1009.4 1028.5L1010.3 1029.6L1011.1 1030.6L1012.0 1031.5L1012.9 1032.3L1013.8 1032.9L1014.7 1033.5L1015.6 1034.0L1016.5 1034.3L1017.4 1034.6L1018.3 1034.8L1019.2 1034.8L1020.2 1034.8L1021.1 1034.6L1022.0 1034.4L1022.9 1034.0L1023.8 1033.6L1024.7 1033.0L1025.6 1032.4L1026.6 1031.6L1027.5 1030.8L1028.4 1029.9L1029.3 1028.9L1030.2 1027.7L1031.2 1026.5L1032.1 1025.2L1033.0 1023.8L1034.0 1022.3L1034.9 1020.8L1035.8 1019.1L1036.8 1017.4L1037.7 1015.6L1038.6 1013.7L1039.6 1011.8L1040.5 1009.7L1041.5 1007.6L1042.4 1005.5L1043.4 1003.3L1044.3 1001.0L1045.3 998.7L1046.2 996.4L1047.2 994.0L1048.1 991.6L1049.1 989.2L1050.0 986.7L1051.0 984.3L1052.0 981.8L1052.9 979.4L1053.9 977.0L1054.8 974.6L1055.8 972.2L1056.8 969.9L1057.7 967.6L1058.7 965.3L1059.7 963.2L1060.7 961.1L1061.6 959.0L1062.6 957.1L1063.6 955.3L1064.6 953.6L1065.6 952.0L1066.5 950.5L1067.5 949.2L1068.5 948.0L1069.5 946.9L1070.5 946.1L1071.5 945.4L1072.5 944.9L1073.5 944.7L1074.5 944.8L1075.5 945.1L1076.5 945.6L1077.5 946.3L1078.5 947.2L1079.5 948.1L1080.5 949.2L1081.5 950.4L1082.5 951.6L1083.5 952.9L1084.5 954.2L1085.5 955.6L1086.5 957.0L1087.5 958.5L1088.5 959.9L1089.6 961.4L1090.6 962.8L1091.6 964.3L1092.6 965.7L1093.6 967.1L1094.7 968.5L1095.7 969.9L1096.7 971.2L1097.7 972.5L1098.8 973.7L1099.8 974.9L1100.8 976.0L1101.9 977.0L1102.9 978.0L1104.0 979.0L1105.0 979.9L1106.0 980.7L1107.1 981.4L1108.1 982.1L1109.2 982.7L1110.2 983.2L1111.3 983.6L1112.3 984.0L1113.4 984.3L1114.4 984.5L1115.5 984.7L1116.5 984.8L1117.6 984.8L1118.6 984.7L1119.7 984.6L1120.7 984.3L1121.8 984.1L1122.9 983.7L1123.9 983.3L1125.0 982.8L1126.1 982.2L1127.1 981.6L1128.2 981.0L1129.3 980.2L1130.4 979.4L1131.4 978.6L1132.5 977.7L1133.6 976.8L1134.7 975.8L1135.7 974.8L1136.8 973.7L1137.9 972.6L1139.0 971.5L1140.1 970.3L1141.2 969.2L1142.3 968.0L1143.3 966.8L1144.4 965.5L1145.5 964.3L1146.6 963.1L1147.7 961.9L1148.8 960.6L1149.9 959.4L1151.0 958.2L1152.1 957.1L1153.2 955.9L1154.3 954.8L1155.4 953.7L1156.5 952.7L1157.6 951.7L1158.7 950.8L1159.9 949.9L1161.0 949.0L1162.1 948.2L1163.2 947.5L1164.3 946.9L1165.4 946.3L1166.5 945.8L1167.7 945.4L1168.8 945.0L1169.9 944.8L1171.0 944.7L1172.2 944.7L1173.3 944.8L1174.4 945.1L1175.6 945.4L1176.7 945.7L1177.8 946.2L1178.9 946.6L1180.1 947.2L1181.2 947.7L1182.4 948.3L1183.5 948.9L1184.6 949.6L1185.8 950.2L1186.9 950.8L1188.1 951.5L1189.2 952.2L1190.4 952.8L1191.5 953.5L1192.7 954.1L1193.8 954.7L1195.0 955.3L1196.1 955.9L1197.3 956.5L1198.4 957.0L1199.6 957.5L1200.8 958.0L1201.9 958.4L1203.1 958.8L1204.2 959.2L1205.4 959.5L1206.6 959.8L1207.7 960.1L1208.9 960.3L1210.1 960.5L1211.2 960.7L1212.4 960.8L1213.6 960.8L1214.8 960.9L1215.9 960.8L1217.1 960.8L1218.3 960.7L1219.5 960.6L1220.7 960.4L1221.9 960.2L1223.0 960.0L1224.2 959.7L1225.4 959.4L1226.6 959.0L1227.8 958.7L1229.0 958.3L1230.2 957.9L1231.4 957.4L1232.6 957.0L1233.8 956.5L1235.0 956.0L1236.2 955.5L1237.4 955.0L1238.6 954.4L1239.8 953.9L1241.0 953.4L1242.2 952.8L1243.4 952.3L1244.6 951.7L1245.8 951.2L1247.0 950.6L1248.2 950.1L1249.4 949.6L1250.7 949.1L1251.9 948.6L1253.1 948.2L1254.3 947.7L1255.5 947.3L1256.7 946.9L1258.0 946.5L1259.2 946.2L1260.4 945.9L1261.6 945.6L1262.9 945.3L1264.1 945.1L1265.3 944.9L1266.6 944.8L1267.8 944.7L1269.0 944.7L1270.3 944.7L1271.5 944.7L1272.7 944.9L1274.0 945.0L1275.2 945.2L1276.5 945.3L1277.7 945.6L1279.0 945.8L1280.2 946.0L1281.4 946.3L1282.7 946.5L1283.9 946.8L1285.2 947.1L1286.4 947.4L1287.7 947.6L1289.0 947.9L1290.2 948.2L1291.5 948.4L1292.7 948.7L1294.0 948.9L1295.3 949.2L1296.5 949.4L1297.8 949.6L1299.0 949.8L1300.3 950.0L1301.6 950.2L1302.8 950.3L1304.1 950.5L1305.4 950.6L1306.7 950.7L1307.9 950.8L1309.2 950.8L1310.5 950.9L1311.8 950.9L1313.0 950.9L1314.3 950.9L1315.6 950.9L1316.9 950.8L1318.2 950.7L1319.5 950.6L1320.7 950.5L1322.0 950.4L1323.3 950.3L1324.6 950.2L1325.9 950.0L1327.2 949.8L1328.5 949.6L1329.8 949.5L1331.1 949.3L1332.4 949.0L1333.7 948.8L1335.0 948.6L1336.3 948.4L1337.6 948.2L1338.9 947.9L1340.2 947.7L1341.5 947.5L1342.8 947.2L1344.1 947.0L1345.4 946.8L1346.7 946.6L1348.0 946.4L1349.4 946.2L1350.7 946.0L1352.0 945.8L1353.3 945.6L1354.6 945.5L1355.9 945.3L1357.3 945.2L1358.6 945.1L1359.9 945.0L1361.2 944.9L1362.6 944.8L1363.9 944.7L1365.2 944.7L1366.5 944.7L1367.9 944.7L1369.2 944.7L1370.5 944.7L1371.9 944.8L1373.2 944.9L1374.5 944.9L1375.9 945.0L1377.2 945.1L1378.6 945.2L1379.9 945.3L1381.2 945.4L1382.6 945.5L1383.9 945.6L1385.3 945.7L1386.6 945.9L1388.0 946.0L1389.3 946.1L1390.7 946.2L1392.0 946.3L1393.4 946.4L1394.7 946.5L1396.1 946.5L1397.5 946.6L1398.8 946.7L1400.2 946.8L1401.5 946.8L1402.9 946.9L1404.3 946.9L1405.6 946.9L1407.0 947.0L1408.4 947.0L1409.7 947.0L1411.1 947.0L1412.5 947.0L1413.8 947.0L1415.2 947.0L1416.6 946.9L1418.0 946.9L1419.3 946.8L1420.7 946.8L1422.1 946.7L1423.5 946.7L1424.9 946.6L1426.2 946.5L1427.6 946.4L1429.0 946.4L1430.4 946.3"/>
</g>
<text class="tk" x="823.6" y="1175" text-anchor="middle">0</text>
<text class="tk" x="910.3" y="1175" text-anchor="middle">1</text>
<text class="tk" x="997.0" y="1175" text-anchor="middle">2</text>
<text class="tk" x="1083.7" y="1175" text-anchor="middle">3</text>
<text class="tk" x="1170.4" y="1175" text-anchor="middle">4</text>
<text class="tk" x="1257.0" y="1175" text-anchor="middle">5</text>
<text class="tk" x="1343.7" y="1175" text-anchor="middle">6</text>
<text class="tk" x="1430.4" y="1175" text-anchor="middle">7</text>
<g role="img" aria-label="λt"><text transform="translate(1102.92 1230.70) scale(1.0192 1) skewX(-9)" style='font-family:"DejaVu Sans",sans-serif;font-weight:200' font-size="47.20" stroke="#000" stroke-width="1.2">λ</text><text transform="translate(1128.63 1231.43) scale(1.1145 1)" style='font-family:"Liberation Serif",serif' font-style="italic" font-size="58.66" stroke="#fff" stroke-width="0.7">t</text></g>
<text y="673.6"><tspan x="1353.49" font-size="48">(</tspan><tspan x="1369.94" y="675.3" font-size="51">d</tspan><tspan x="1396.30" y="673.6" font-size="48">)</tspan></text>
<g role="img" aria-label="|Φ⟩, γ = 2.0λ"><text transform="translate(1120.03 765.48) scale(0.8936 1)" style='font-family:"Liberation Serif",serif' font-size="56.17">|</text><text transform="translate(1132.65 763.65) scale(0.8748 1)" style='font-family:"Liberation Serif",serif' font-size="52.69">Φ</text><text transform="translate(1166.56 769.88) scale(0.9655 1)" style='font-family:"DejaVu Sans",sans-serif' font-size="60.07" stroke="#fff" stroke-width="1.9">⟩</text><text transform="translate(1192.27 764.61) scale(0.6851 1)" style='font-family:"Liberation Serif",serif' font-size="56.85">,</text><text transform="translate(1209.67 764.09) scale(1.3597 1)" style='font-family:"Liberation Serif",serif' font-style="italic" font-size="50.08" stroke="#fff" stroke-width="1.1">γ</text><text transform="translate(1252.19 766.07) scale(1.5548 1)" style='font-family:"Liberation Serif",serif' font-size="47.20">=</text><text x="1304.80" y="763.7" font-size="51.8">2.0</text><text transform="translate(1370.88 763.80) scale(1.0332 1) skewX(-9)" style='font-family:"DejaVu Sans",sans-serif;font-weight:200' font-size="47.16" stroke="#000" stroke-width="1.2">λ</text></g>
</g>
</svg></body></html>
